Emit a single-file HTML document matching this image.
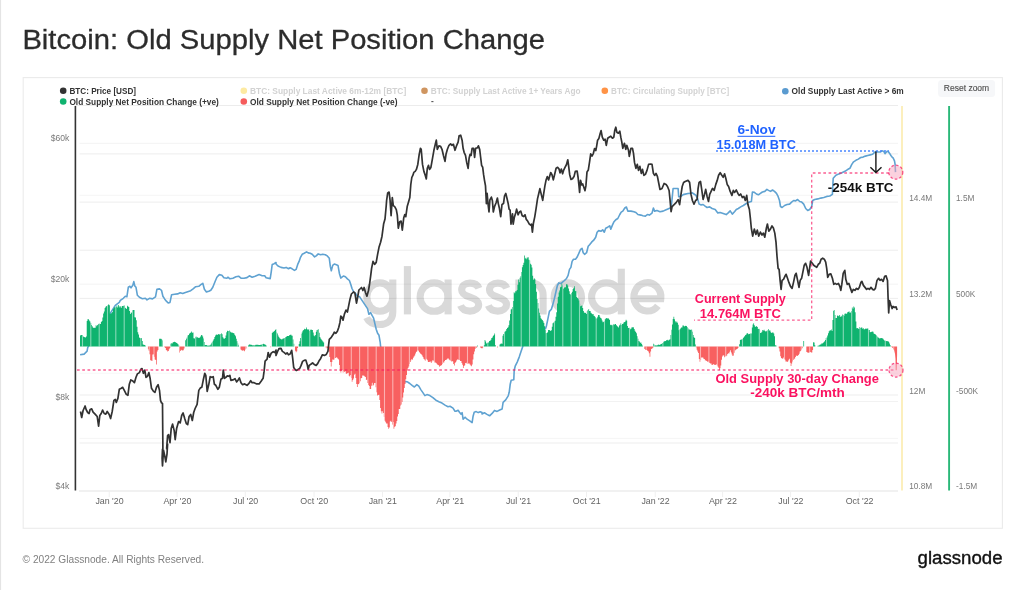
<!DOCTYPE html>
<html><head><meta charset="utf-8">
<style>
html,body{margin:0;padding:0;background:#fff;}
body{width:1024px;height:590px;overflow:hidden;position:relative;font-family:"Liberation Sans",sans-serif;}
svg{position:absolute;left:0;top:0;will-change:transform;}
text{font-family:"Liberation Sans",sans-serif;}
</style></head><body>
<svg width="1024" height="590" viewBox="0 0 1024 590">
<rect x="0" y="0" width="1024" height="590" fill="#fff"/>
<rect x="0" y="0" width="1.1" height="590" fill="#e4e4e4"/>
<text x="22.4" y="49.1" font-size="28.2" fill="#2c2c2c" stroke="#2c2c2c" stroke-width="0.3" textLength="522.5" lengthAdjust="spacingAndGlyphs">Bitcoin: Old Supply Net Position Change</text>
<rect x="23.2" y="77.6" width="979.2" height="450.7" fill="#fff" stroke="#ebebeb" stroke-width="1.1"/>
<g fill="none" stroke="#d9d9d9" stroke-width="7.1"><ellipse cx="379.8" cy="297.1" rx="13.0" ry="14.2"/><path d="M392.8,279.5 V312 C392.8,320 387,324.5 379.5,324.5 C373,324.5 368.5,321.8 366.6,317.6"/><path d="M407.4,266.1 V314.4"/><ellipse cx="434.1" cy="297.1" rx="14.0" ry="14.2"/><path d="M448.1,279.5 V314.4"/><path d="M478.9,288.3 C477.6,285 474.0,283.1 470.0,283.1 C465.0,283.1 461.7,286 461.7,289.9 C461.7,294 465.5,295.6 470.0,297.1 C474.8,298.7 478.7,300.4 478.7,304.5 C478.7,308.4 475.0,311.1 470.0,311.1 C465.4,311.1 461.9,309 460.6,305.6"/><path d="M506.7,288.3 C505.4,285 501.8,283.1 497.8,283.1 C492.8,283.1 489.5,286 489.5,289.9 C489.5,294 493.3,295.6 497.8,297.1 C502.6,298.7 506.5,300.4 506.5,304.5 C506.5,308.4 502.8,311.1 497.8,311.1 C493.2,311.1 489.7,309 488.4,305.6"/><path d="M518.9,279.5 V314.4 M518.9,295 A12.1,12.3 0 0 1 543.1,295 V314.4"/><ellipse cx="567.8" cy="297.1" rx="13.7" ry="14.2"/><ellipse cx="606.4" cy="297.1" rx="14.8" ry="14.2"/><path d="M621.3,268.7 V314.4"/><path d="M633.8,298.7 H660.8 A13.5,14.2 0 1 0 657.9,305.8"/></g><line x1="79.5" x2="898" y1="143.3" y2="143.3" stroke="#000" stroke-opacity="0.05" stroke-width="1"/><line x1="79.5" x2="898" y1="153.9" y2="153.9" stroke="#000" stroke-opacity="0.075" stroke-width="1"/><line x1="79.5" x2="898" y1="195.3" y2="195.3" stroke="#000" stroke-opacity="0.045" stroke-width="1"/><line x1="79.5" x2="898" y1="202.1" y2="202.1" stroke="#000" stroke-opacity="0.075" stroke-width="1"/><line x1="79.5" x2="898" y1="250.2" y2="250.2" stroke="#000" stroke-opacity="0.075" stroke-width="1"/><line x1="79.5" x2="898" y1="284.2" y2="284.2" stroke="#000" stroke-opacity="0.05" stroke-width="1"/><line x1="79.5" x2="898" y1="298.4" y2="298.4" stroke="#000" stroke-opacity="0.075" stroke-width="1"/><line x1="79.5" x2="898" y1="373.2" y2="373.2" stroke="#000" stroke-opacity="0.035" stroke-width="1"/><line x1="79.5" x2="898" y1="395.0" y2="395.0" stroke="#000" stroke-opacity="0.075" stroke-width="1"/><line x1="79.5" x2="898" y1="401.5" y2="401.5" stroke="#000" stroke-opacity="0.05" stroke-width="1"/><line x1="79.5" x2="898" y1="438.4" y2="438.4" stroke="#000" stroke-opacity="0.045" stroke-width="1"/><line x1="79.5" x2="898" y1="443.0" y2="443.0" stroke="#000" stroke-opacity="0.075" stroke-width="1"/><line x1="75" x2="898" y1="105.5" y2="105.5" stroke="#ececec" stroke-width="1"/>

<defs>
<clipPath id="barclip"><path d="M80.00,346.6 V335.5 H80.75 V334.9 H81.49 V335.1 H82.24 V335.0 H82.99 V336.5 H83.73 V337.0 H84.48 V337.2 H85.23 V337.5 H85.97 V336.4 H86.72 V321.0 H87.46 V319.3 H88.21 V319.3 H88.96 V320.4 H89.70 V321.6 H90.45 V323.0 H91.20 V324.9 H91.94 V326.3 H92.69 V327.6 H93.44 V328.1 H94.18 V327.8 H94.93 V327.8 H95.68 V325.2 H96.42 V326.2 H97.17 V324.9 H97.92 V324.2 H98.66 V323.8 H99.41 V323.8 H100.16 V324.1 H100.90 V321.9 H101.65 V321.0 H102.39 V317.4 H103.14 V313.6 H103.89 V311.4 H104.63 V308.1 H105.38 V306.7 H106.13 V305.9 H106.87 V306.6 H107.62 V305.1 H108.37 V304.2 H109.11 V305.2 H109.86 V313.9 H110.61 V312.8 H111.35 V313.3 H112.10 V312.0 H112.85 V308.9 H113.59 V308.0 H114.34 V306.9 H115.09 V307.6 H115.83 V306.8 H116.58 V305.5 H117.32 V307.5 H118.07 V305.0 H118.82 V306.3 H119.56 V307.6 H120.31 V306.3 H121.06 V307.7 H121.80 V306.1 H122.55 V306.1 H123.30 V305.7 H124.04 V305.5 H124.79 V307.8 H125.54 V308.3 H126.28 V309.1 H127.03 V305.8 H127.78 V306.4 H128.52 V307.1 H129.27 V311.1 H130.02 V314.1 H130.76 V312.6 H131.51 V312.7 H132.25 V310.2 H133.00 V310.1 H133.75 V309.9 H134.49 V317.2 H135.24 V317.4 H135.99 V320.3 H136.73 V326.8 H137.48 V332.2 H138.23 V334.4 H138.97 V337.6 H139.72 V338.0 H140.47 V338.4 H141.21 V338.1 H141.96 V341.1 H142.71 V344.6 H143.45 V344.8 H144.20 V345.0 H144.95 V345.4 H145.69 V346.6 H146.44 V346.6 H147.18 V346.6 H147.93 V346.6 H148.68 V346.6 H149.42 V346.6 H150.17 V346.6 H150.92 V346.6 H151.66 V346.6 H152.41 V346.6 H153.16 V346.6 H153.90 V346.6 H154.65 V346.6 H155.40 V346.6 H156.14 V346.6 H156.89 V346.6 H157.64 V346.6 H158.38 V346.6 H159.13 V338.7 H159.88 V338.7 H160.62 V338.7 H161.37 V339.2 H162.11 V340.6 H162.86 V346.6 H163.61 V346.6 H164.35 V346.6 H165.10 V346.6 H165.85 V346.6 H166.59 V346.6 H167.34 V346.6 H168.09 V346.6 H168.83 V346.6 H169.58 V346.6 H170.33 V343.7 H171.07 V343.2 H171.82 V343.4 H172.57 V342.6 H173.31 V342.1 H174.06 V341.7 H174.81 V341.9 H175.55 V342.6 H176.30 V342.9 H177.04 V343.4 H177.79 V344.2 H178.54 V345.5 H179.28 V346.6 H180.03 V346.6 H180.78 V346.6 H181.52 V346.6 H182.27 V346.6 H183.02 V346.6 H183.76 V346.6 H184.51 V346.6 H185.26 V340.2 H186.00 V338.8 H186.75 V337.5 H187.50 V335.6 H188.24 V334.9 H188.99 V333.7 H189.74 V332.9 H190.48 V332.5 H191.23 V331.6 H191.97 V332.8 H192.72 V332.4 H193.47 V338.2 H194.21 V338.4 H194.96 V337.3 H195.71 V336.6 H196.45 V337.4 H197.20 V337.2 H197.95 V337.7 H198.69 V338.0 H199.44 V337.6 H200.19 V336.5 H200.93 V335.1 H201.68 V335.2 H202.43 V336.5 H203.17 V338.6 H203.92 V341.9 H204.67 V345.0 H205.41 V344.9 H206.16 V344.9 H206.90 V345.5 H207.65 V345.7 H208.40 V345.4 H209.14 V345.6 H209.89 V345.3 H210.64 V344.2 H211.38 V342.7 H212.13 V341.8 H212.88 V340.5 H213.62 V339.0 H214.37 V337.1 H215.12 V335.5 H215.86 V334.4 H216.61 V334.7 H217.36 V334.8 H218.10 V333.9 H218.85 V334.4 H219.60 V334.3 H220.34 V334.1 H221.09 V333.2 H221.83 V334.2 H222.58 V337.2 H223.33 V338.6 H224.07 V338.8 H224.82 V338.1 H225.57 V335.4 H226.31 V332.3 H227.06 V330.7 H227.81 V330.9 H228.55 V330.9 H229.30 V330.4 H230.05 V331.7 H230.79 V332.5 H231.54 V332.6 H232.29 V332.7 H233.03 V333.0 H233.78 V333.5 H234.53 V335.1 H235.27 V336.3 H236.02 V338.7 H236.76 V341.2 H237.51 V343.4 H238.26 V345.6 H239.00 V346.6 H239.75 V346.6 H240.50 V346.6 H241.24 V346.6 H241.99 V346.6 H242.74 V346.6 H243.48 V346.6 H244.23 V346.6 H244.98 V346.6 H245.72 V346.6 H246.47 V346.6 H247.22 V346.6 H247.96 V345.4 H248.71 V344.8 H249.46 V344.2 H250.20 V344.8 H250.95 V344.8 H251.69 V344.9 H252.44 V345.4 H253.19 V345.1 H253.93 V345.3 H254.68 V345.2 H255.43 V344.7 H256.17 V344.7 H256.92 V344.7 H257.67 V344.7 H258.41 V345.1 H259.16 V344.9 H259.91 V345.0 H260.65 V344.5 H261.40 V344.7 H262.15 V344.0 H262.89 V343.8 H263.64 V344.1 H264.39 V344.6 H265.13 V344.8 H265.88 V345.6 H266.62 V346.6 H267.37 V346.6 H268.12 V346.6 H268.86 V346.6 H269.61 V346.6 H270.36 V346.6 H271.10 V346.6 H271.85 V333.0 H272.60 V331.7 H273.34 V331.7 H274.09 V331.1 H274.84 V330.0 H275.58 V329.2 H276.33 V332.5 H277.08 V333.4 H277.82 V335.6 H278.57 V336.9 H279.32 V338.3 H280.06 V338.7 H280.81 V339.2 H281.56 V339.4 H282.30 V338.7 H283.05 V338.4 H283.79 V338.3 H284.54 V338.1 H285.29 V337.1 H286.03 V336.7 H286.78 V336.1 H287.53 V335.9 H288.27 V335.9 H289.02 V335.3 H289.77 V335.1 H290.51 V334.6 H291.26 V335.5 H292.01 V335.7 H292.75 V339.6 H293.50 V343.8 H294.25 V346.6 H294.99 V346.6 H295.74 V346.6 H296.49 V346.6 H297.23 V346.6 H297.98 V346.6 H298.72 V344.1 H299.47 V341.2 H300.22 V338.0 H300.96 V334.1 H301.71 V332.5 H302.46 V330.8 H303.20 V330.1 H303.95 V328.7 H304.70 V329.4 H305.44 V328.9 H306.19 V327.6 H306.94 V329.2 H307.68 V329.7 H308.43 V329.2 H309.18 V331.0 H309.92 V329.9 H310.67 V329.2 H311.42 V330.0 H312.16 V330.1 H312.91 V332.4 H313.65 V335.6 H314.40 V336.2 H315.15 V335.1 H315.89 V331.7 H316.64 V329.9 H317.39 V329.8 H318.13 V329.2 H318.88 V332.7 H319.63 V336.9 H320.37 V338.5 H321.12 V339.6 H321.87 V340.6 H322.61 V341.5 H323.36 V342.5 H324.11 V346.6 H324.85 V346.6 H325.60 V346.6 H326.35 V346.6 H327.09 V346.6 H327.84 V346.6 H328.58 V346.6 H329.33 V346.6 H330.08 V346.6 H330.82 V346.6 H331.57 V346.6 H332.32 V346.6 H333.06 V346.6 H333.81 V346.6 H334.56 V346.6 H335.30 V346.6 H336.05 V346.6 H336.80 V346.6 H337.54 V346.6 H338.29 V346.6 H339.04 V346.6 H339.78 V346.6 H340.53 V346.6 H341.28 V346.6 H342.02 V346.6 H342.77 V346.6 H343.51 V346.6 H344.26 V346.6 H345.01 V346.6 H345.75 V346.6 H346.50 V346.6 H347.25 V346.6 H347.99 V346.6 H348.74 V346.6 H349.49 V346.6 H350.23 V346.6 H350.98 V346.6 H351.73 V346.6 H352.47 V346.6 H353.22 V346.6 H353.97 V346.6 H354.71 V346.6 H355.46 V346.6 H356.21 V346.6 H356.95 V346.6 H357.70 V346.6 H358.44 V346.6 H359.19 V346.6 H359.94 V346.6 H360.68 V346.6 H361.43 V346.6 H362.18 V346.6 H362.92 V346.6 H363.67 V346.6 H364.42 V346.6 H365.16 V346.6 H365.91 V346.6 H366.66 V346.6 H367.40 V346.6 H368.15 V346.6 H368.90 V346.6 H369.64 V346.6 H370.39 V346.6 H371.14 V346.6 H371.88 V346.6 H372.63 V346.6 H373.37 V346.6 H374.12 V346.6 H374.87 V346.6 H375.61 V346.6 H376.36 V346.6 H377.11 V346.6 H377.85 V346.6 H378.60 V346.6 H379.35 V346.6 H380.09 V346.6 H380.84 V346.6 H381.59 V346.6 H382.33 V346.6 H383.08 V346.6 H383.83 V346.6 H384.57 V346.6 H385.32 V346.6 H386.07 V346.6 H386.81 V346.6 H387.56 V346.6 H388.30 V346.6 H389.05 V346.6 H389.80 V346.6 H390.54 V346.6 H391.29 V346.6 H392.04 V346.6 H392.78 V346.6 H393.53 V346.6 H394.28 V346.6 H395.02 V346.6 H395.77 V346.6 H396.52 V346.6 H397.26 V346.6 H398.01 V346.6 H398.76 V346.6 H399.50 V346.6 H400.25 V346.6 H401.00 V346.6 H401.74 V346.6 H402.49 V346.6 H403.23 V346.6 H403.98 V346.6 H404.73 V346.6 H405.47 V346.6 H406.22 V346.6 H406.97 V346.6 H407.71 V346.6 H408.46 V346.6 H409.21 V346.6 H409.95 V346.6 H410.70 V346.6 H411.45 V346.6 H412.19 V346.6 H412.94 V346.6 H413.69 V346.6 H414.43 V346.6 H415.18 V346.6 H415.93 V346.6 H416.67 V346.6 H417.42 V346.6 H418.16 V346.6 H418.91 V346.6 H419.66 V346.6 H420.40 V346.6 H421.15 V346.6 H421.90 V346.6 H422.64 V346.6 H423.39 V346.6 H424.14 V346.6 H424.88 V346.6 H425.63 V346.6 H426.38 V346.6 H427.12 V346.6 H427.87 V346.6 H428.62 V346.6 H429.36 V346.6 H430.11 V346.6 H430.86 V346.6 H431.60 V346.6 H432.35 V346.6 H433.09 V346.6 H433.84 V346.6 H434.59 V346.6 H435.33 V346.6 H436.08 V346.6 H436.83 V346.6 H437.57 V346.6 H438.32 V346.6 H439.07 V346.6 H439.81 V346.6 H440.56 V346.6 H441.31 V346.6 H442.05 V346.6 H442.80 V346.6 H443.55 V346.6 H444.29 V346.6 H445.04 V346.6 H445.79 V346.6 H446.53 V346.6 H447.28 V346.6 H448.02 V346.6 H448.77 V346.6 H449.52 V346.6 H450.26 V346.6 H451.01 V346.6 H451.76 V346.6 H452.50 V346.6 H453.25 V346.6 H454.00 V346.6 H454.74 V346.6 H455.49 V346.6 H456.24 V346.6 H456.98 V346.6 H457.73 V346.6 H458.48 V346.6 H459.22 V346.6 H459.97 V346.6 H460.72 V346.6 H461.46 V346.6 H462.21 V346.6 H462.95 V346.6 H463.70 V346.6 H464.45 V346.6 H465.19 V346.6 H465.94 V346.6 H466.69 V346.6 H467.43 V346.6 H468.18 V346.6 H468.93 V346.6 H469.67 V346.6 H470.42 V346.6 H471.17 V346.6 H471.91 V346.6 H472.66 V346.6 H473.41 V346.6 H474.15 V346.6 H474.90 V346.6 H475.65 V346.6 H476.39 V346.6 H477.14 V345.5 H477.88 V346.6 H478.63 V346.6 H479.38 V346.6 H480.12 V346.6 H480.87 V346.6 H481.62 V346.6 H482.36 V346.6 H483.11 V346.6 H483.86 V345.2 H484.60 V340.0 H485.35 V341.6 H486.10 V343.4 H486.84 V343.1 H487.59 V342.6 H488.34 V342.4 H489.08 V340.9 H489.83 V340.7 H490.58 V339.7 H491.32 V337.9 H492.07 V337.5 H492.81 V335.9 H493.56 V335.0 H494.31 V333.6 H495.05 V344.9 H495.80 V346.6 H496.55 V346.6 H497.29 V346.6 H498.04 V346.6 H498.79 V346.6 H499.53 V344.6 H500.28 V343.8 H501.03 V343.6 H501.77 V343.7 H502.52 V335.8 H503.27 V333.9 H504.01 V332.2 H504.76 V331.5 H505.51 V330.7 H506.25 V329.1 H507.00 V328.1 H507.74 V327.2 H508.49 V325.3 H509.24 V320.5 H509.98 V313.9 H510.73 V309.6 H511.48 V308.8 H512.22 V307.0 H512.97 V301.1 H513.72 V292.3 H514.46 V293.2 H515.21 V291.2 H515.96 V291.3 H516.70 V289.9 H517.45 V284.8 H518.20 V279.5 H518.94 V282.2 H519.69 V277.8 H520.44 V276.2 H521.18 V271.9 H521.93 V267.3 H522.67 V264.9 H523.42 V262.7 H524.17 V255.5 H524.91 V258.5 H525.66 V257.8 H526.41 V259.2 H527.15 V257.5 H527.90 V257.2 H528.65 V259.7 H529.39 V260.4 H530.14 V263.7 H530.89 V264.7 H531.63 V267.6 H532.38 V275.7 H533.13 V279.8 H533.87 V278.3 H534.62 V279.3 H535.37 V283.9 H536.11 V291.7 H536.86 V298.9 H537.60 V303.1 H538.35 V308.4 H539.10 V312.7 H539.84 V315.6 H540.59 V318.2 H541.34 V319.3 H542.08 V319.9 H542.83 V321.3 H543.58 V322.9 H544.32 V326.3 H545.07 V329.9 H545.82 V333.3 H546.56 V333.1 H547.31 V332.2 H548.06 V329.9 H548.80 V330.0 H549.55 V330.3 H550.30 V331.0 H551.04 V330.3 H551.79 V326.7 H552.53 V323.3 H553.28 V322.6 H554.03 V321.8 H554.77 V320.7 H555.52 V316.8 H556.27 V312.2 H557.01 V303.6 H557.76 V296.7 H558.51 V292.4 H559.25 V290.5 H560.00 V287.2 H560.75 V286.7 H561.49 V283.4 H562.24 V285.5 H562.99 V288.7 H563.73 V287.8 H564.48 V287.1 H565.23 V287.3 H565.97 V284.2 H566.72 V284.3 H567.46 V285.4 H568.21 V288.6 H568.96 V291.3 H569.70 V294.0 H570.45 V294.7 H571.20 V293.0 H571.94 V291.7 H572.69 V289.0 H573.44 V288.0 H574.18 V286.2 H574.93 V290.7 H575.68 V291.3 H576.42 V296.9 H577.17 V298.0 H577.92 V298.7 H578.66 V300.6 H579.41 V303.8 H580.16 V306.2 H580.90 V305.8 H581.65 V305.5 H582.39 V308.0 H583.14 V311.0 H583.89 V312.5 H584.63 V312.9 H585.38 V312.8 H586.13 V314.1 H586.87 V311.1 H587.62 V310.0 H588.37 V309.0 H589.11 V311.1 H589.86 V311.0 H590.61 V312.8 H591.35 V313.6 H592.10 V314.3 H592.85 V314.1 H593.59 V315.7 H594.34 V316.3 H595.09 V317.3 H595.83 V318.7 H596.58 V318.2 H597.32 V316.8 H598.07 V314.9 H598.82 V315.1 H599.56 V316.7 H600.31 V317.9 H601.06 V318.5 H601.80 V320.4 H602.55 V322.3 H603.30 V321.8 H604.04 V321.6 H604.79 V319.2 H605.54 V318.6 H606.28 V317.9 H607.03 V318.5 H607.78 V318.0 H608.52 V319.1 H609.27 V320.0 H610.02 V324.7 H610.76 V325.2 H611.51 V324.8 H612.25 V325.4 H613.00 V324.2 H613.75 V325.0 H614.49 V324.0 H615.24 V324.1 H615.99 V324.9 H616.73 V325.9 H617.48 V326.7 H618.23 V327.5 H618.97 V325.4 H619.72 V324.7 H620.47 V323.3 H621.21 V325.1 H621.96 V324.0 H622.71 V323.7 H623.45 V322.5 H624.20 V322.1 H624.95 V321.5 H625.69 V319.7 H626.44 V320.8 H627.18 V325.9 H627.93 V328.0 H628.68 V327.8 H629.42 V328.3 H630.17 V329.2 H630.92 V328.5 H631.66 V326.9 H632.41 V327.5 H633.16 V327.3 H633.90 V329.1 H634.65 V330.8 H635.40 V332.0 H636.14 V333.2 H636.89 V336.2 H637.64 V338.8 H638.38 V341.0 H639.13 V341.5 H639.88 V342.7 H640.62 V342.6 H641.37 V344.1 H642.11 V345.5 H642.86 V346.6 H643.61 V346.6 H644.35 V346.6 H645.10 V346.6 H645.85 V346.6 H646.59 V346.6 H647.34 V346.6 H648.09 V346.6 H648.83 V346.6 H649.58 V346.6 H650.33 V346.6 H651.07 V346.6 H651.82 V346.6 H652.57 V346.6 H653.31 V343.7 H654.06 V344.7 H654.81 V345.5 H655.55 V345.3 H656.30 V345.4 H657.04 V345.3 H657.79 V344.8 H658.54 V344.6 H659.28 V344.9 H660.03 V344.5 H660.78 V344.1 H661.52 V343.8 H662.27 V342.9 H663.02 V342.2 H663.76 V341.2 H664.51 V341.2 H665.26 V340.9 H666.00 V340.2 H666.75 V340.2 H667.50 V339.8 H668.24 V340.5 H668.99 V339.8 H669.74 V339.2 H670.48 V334.9 H671.23 V329.7 H671.97 V324.5 H672.72 V318.9 H673.47 V316.7 H674.21 V319.2 H674.96 V321.3 H675.71 V322.6 H676.45 V321.5 H677.20 V322.7 H677.95 V324.8 H678.69 V330.3 H679.44 V329.6 H680.19 V328.4 H680.93 V327.5 H681.68 V327.4 H682.43 V325.5 H683.17 V325.4 H683.92 V326.6 H684.67 V326.0 H685.41 V325.8 H686.16 V325.9 H686.90 V326.9 H687.65 V328.3 H688.40 V329.5 H689.14 V329.5 H689.89 V330.0 H690.64 V329.4 H691.38 V329.7 H692.13 V331.8 H692.88 V335.1 H693.62 V337.3 H694.37 V338.1 H695.12 V344.5 H695.86 V346.6 H696.61 V346.6 H697.36 V346.6 H698.10 V346.6 H698.85 V346.6 H699.60 V346.6 H700.34 V346.6 H701.09 V346.6 H701.83 V346.6 H702.58 V346.6 H703.33 V346.6 H704.07 V346.6 H704.82 V346.6 H705.57 V346.6 H706.31 V346.6 H707.06 V346.6 H707.81 V346.6 H708.55 V346.6 H709.30 V346.6 H710.05 V346.6 H710.79 V346.6 H711.54 V346.6 H712.29 V346.6 H713.03 V346.6 H713.78 V346.6 H714.52 V346.6 H715.27 V346.6 H716.02 V346.6 H716.76 V346.6 H717.51 V346.6 H718.26 V346.6 H719.00 V346.6 H719.75 V346.6 H720.50 V346.6 H721.24 V346.6 H721.99 V346.6 H722.74 V346.6 H723.48 V346.6 H724.23 V346.6 H724.98 V346.6 H725.72 V346.6 H726.47 V346.6 H727.22 V346.6 H727.96 V346.6 H728.71 V346.6 H729.45 V346.6 H730.20 V346.6 H730.95 V346.6 H731.69 V346.6 H732.44 V346.6 H733.19 V346.6 H733.93 V346.6 H734.68 V346.6 H735.43 V346.6 H736.17 V346.6 H736.92 V346.6 H737.67 V346.6 H738.41 V346.6 H739.16 V344.2 H739.91 V340.1 H740.65 V339.4 H741.40 V339.6 H742.15 V339.0 H742.89 V338.1 H743.64 V336.9 H744.38 V335.9 H745.13 V334.9 H745.88 V334.5 H746.62 V333.3 H747.37 V333.2 H748.12 V334.2 H748.86 V334.0 H749.61 V333.7 H750.36 V333.5 H751.10 V333.4 H751.85 V327.4 H752.60 V324.4 H753.34 V323.2 H754.09 V325.2 H754.84 V326.7 H755.58 V326.7 H756.33 V326.0 H757.08 V327.1 H757.82 V329.1 H758.57 V328.8 H759.31 V329.6 H760.06 V333.0 H760.81 V332.7 H761.55 V331.7 H762.30 V330.0 H763.05 V330.4 H763.79 V329.8 H764.54 V330.9 H765.29 V331.6 H766.03 V331.3 H766.78 V330.6 H767.53 V330.6 H768.27 V329.1 H769.02 V330.4 H769.77 V330.5 H770.51 V332.3 H771.26 V332.9 H772.01 V332.4 H772.75 V332.4 H773.50 V333.6 H774.24 V336.2 H774.99 V344.9 H775.74 V345.5 H776.48 V346.6 H777.23 V346.6 H777.98 V346.6 H778.72 V346.6 H779.47 V346.6 H780.22 V346.6 H780.96 V346.6 H781.71 V346.6 H782.46 V346.6 H783.20 V346.6 H783.95 V346.6 H784.70 V346.6 H785.44 V346.6 H786.19 V346.6 H786.94 V346.6 H787.68 V346.6 H788.43 V346.6 H789.17 V346.6 H789.92 V346.6 H790.67 V346.6 H791.41 V346.6 H792.16 V346.6 H792.91 V346.6 H793.65 V346.6 H794.40 V346.6 H795.15 V346.6 H795.89 V346.6 H796.64 V346.6 H797.39 V346.6 H798.13 V346.6 H798.88 V346.6 H799.63 V346.6 H800.37 V346.6 H801.12 V346.6 H801.87 V346.6 H802.61 V346.6 H803.36 V340.9 H804.10 V346.6 H804.85 V346.6 H805.60 V346.6 H806.34 V346.6 H807.09 V346.6 H807.84 V346.6 H808.58 V346.6 H809.33 V346.6 H810.08 V346.6 H810.82 V346.6 H811.57 V346.6 H812.32 V346.6 H813.06 V342.3 H813.81 V342.5 H814.56 V345.2 H815.30 V346.6 H816.05 V346.6 H816.80 V346.6 H817.54 V345.7 H818.29 V345.5 H819.03 V345.2 H819.78 V344.5 H820.53 V344.5 H821.27 V343.5 H822.02 V343.4 H822.77 V342.9 H823.51 V342.1 H824.26 V341.2 H825.01 V340.1 H825.75 V338.1 H826.50 V337.4 H827.25 V335.4 H827.99 V333.3 H828.74 V331.2 H829.49 V330.4 H830.23 V330.2 H830.98 V329.4 H831.73 V331.1 H832.47 V320.1 H833.22 V310.7 H833.96 V310.0 H834.71 V315.0 H835.46 V318.0 H836.20 V317.9 H836.95 V315.5 H837.70 V315.8 H838.44 V316.3 H839.19 V315.1 H839.94 V317.1 H840.68 V315.7 H841.43 V316.5 H842.18 V314.5 H842.92 V315.0 H843.67 V315.7 H844.42 V313.7 H845.16 V313.6 H845.91 V313.9 H846.66 V313.2 H847.40 V312.0 H848.15 V311.8 H848.89 V311.4 H849.64 V313.1 H850.39 V312.3 H851.13 V311.1 H851.88 V307.6 H852.63 V308.8 H853.37 V306.5 H854.12 V307.4 H854.87 V312.2 H855.61 V321.5 H856.36 V328.3 H857.11 V328.1 H857.85 V328.6 H858.60 V328.9 H859.35 V327.1 H860.09 V328.0 H860.84 V327.6 H861.59 V327.6 H862.33 V328.7 H863.08 V328.2 H863.82 V329.6 H864.57 V329.0 H865.32 V328.4 H866.06 V328.7 H866.81 V328.5 H867.56 V328.6 H868.30 V330.0 H869.05 V330.1 H869.80 V332.3 H870.54 V332.0 H871.29 V331.8 H872.04 V331.6 H872.78 V331.7 H873.53 V333.4 H874.28 V333.9 H875.02 V334.2 H875.77 V335.0 H876.52 V335.9 H877.26 V337.2 H878.01 V337.6 H878.75 V338.1 H879.50 V338.8 H880.25 V338.0 H880.99 V338.0 H881.74 V338.3 H882.49 V338.5 H883.23 V339.4 H883.98 V340.5 H884.73 V340.6 H885.47 V341.2 H886.22 V341.1 H886.97 V341.2 H887.71 V341.0 H888.46 V341.9 H889.21 V343.6 H889.95 V345.3 H890.70 V346.6 Z"/><path d="M80.00,346.6 V346.6 H80.75 V346.6 H81.49 V346.6 H82.24 V346.6 H82.99 V346.6 H83.73 V346.6 H84.48 V346.6 H85.23 V346.6 H85.97 V346.6 H86.72 V346.6 H87.46 V346.6 H88.21 V346.6 H88.96 V346.6 H89.70 V346.6 H90.45 V346.6 H91.20 V346.6 H91.94 V346.6 H92.69 V346.6 H93.44 V346.6 H94.18 V346.6 H94.93 V346.6 H95.68 V346.6 H96.42 V346.6 H97.17 V346.6 H97.92 V346.6 H98.66 V346.6 H99.41 V346.6 H100.16 V346.6 H100.90 V346.6 H101.65 V346.6 H102.39 V346.6 H103.14 V346.6 H103.89 V346.6 H104.63 V346.6 H105.38 V346.6 H106.13 V346.6 H106.87 V346.6 H107.62 V346.6 H108.37 V346.6 H109.11 V346.6 H109.86 V346.6 H110.61 V346.6 H111.35 V346.6 H112.10 V346.6 H112.85 V346.6 H113.59 V346.6 H114.34 V346.6 H115.09 V346.6 H115.83 V346.6 H116.58 V346.6 H117.32 V346.6 H118.07 V346.6 H118.82 V346.6 H119.56 V346.6 H120.31 V346.6 H121.06 V346.6 H121.80 V346.6 H122.55 V346.6 H123.30 V346.6 H124.04 V346.6 H124.79 V346.6 H125.54 V346.6 H126.28 V346.6 H127.03 V346.6 H127.78 V346.6 H128.52 V346.6 H129.27 V346.6 H130.02 V346.6 H130.76 V346.6 H131.51 V346.6 H132.25 V346.6 H133.00 V346.6 H133.75 V346.6 H134.49 V346.6 H135.24 V346.6 H135.99 V346.6 H136.73 V346.6 H137.48 V346.6 H138.23 V346.6 H138.97 V346.6 H139.72 V346.6 H140.47 V346.6 H141.21 V346.6 H141.96 V346.6 H142.71 V346.6 H143.45 V346.6 H144.20 V346.6 H144.95 V346.6 H145.69 V346.6 H146.44 V346.6 H147.18 V346.6 H147.93 V349.2 H148.68 V350.8 H149.42 V354.2 H150.17 V360.2 H150.92 V360.5 H151.66 V361.0 H152.41 V354.4 H153.16 V354.3 H153.90 V356.7 H154.65 V359.4 H155.40 V359.9 H156.14 V364.4 H156.89 V351.6 H157.64 V350.1 H158.38 V346.6 H159.13 V346.6 H159.88 V346.6 H160.62 V346.6 H161.37 V346.6 H162.11 V346.6 H162.86 V346.6 H163.61 V346.6 H164.35 V347.3 H165.10 V348.1 H165.85 V349.9 H166.59 V350.6 H167.34 V351.5 H168.09 V351.1 H168.83 V349.3 H169.58 V348.1 H170.33 V346.6 H171.07 V346.6 H171.82 V346.6 H172.57 V346.6 H173.31 V346.6 H174.06 V346.6 H174.81 V346.6 H175.55 V346.6 H176.30 V346.6 H177.04 V346.6 H177.79 V346.6 H178.54 V346.6 H179.28 V352.4 H180.03 V350.9 H180.78 V349.8 H181.52 V350.2 H182.27 V350.5 H183.02 V350.2 H183.76 V348.4 H184.51 V346.6 H185.26 V346.6 H186.00 V346.6 H186.75 V346.6 H187.50 V346.6 H188.24 V346.6 H188.99 V346.6 H189.74 V346.6 H190.48 V346.6 H191.23 V346.6 H191.97 V346.6 H192.72 V346.6 H193.47 V346.6 H194.21 V346.6 H194.96 V346.6 H195.71 V346.6 H196.45 V346.6 H197.20 V346.6 H197.95 V346.6 H198.69 V346.6 H199.44 V346.6 H200.19 V346.6 H200.93 V346.6 H201.68 V346.6 H202.43 V346.6 H203.17 V346.6 H203.92 V346.6 H204.67 V346.6 H205.41 V346.6 H206.16 V346.6 H206.90 V346.6 H207.65 V346.6 H208.40 V346.6 H209.14 V346.6 H209.89 V346.6 H210.64 V346.6 H211.38 V346.6 H212.13 V346.6 H212.88 V346.6 H213.62 V346.6 H214.37 V346.6 H215.12 V346.6 H215.86 V346.6 H216.61 V346.6 H217.36 V346.6 H218.10 V346.6 H218.85 V346.6 H219.60 V346.6 H220.34 V346.6 H221.09 V346.6 H221.83 V346.6 H222.58 V346.6 H223.33 V346.6 H224.07 V346.6 H224.82 V346.6 H225.57 V346.6 H226.31 V346.6 H227.06 V346.6 H227.81 V346.6 H228.55 V346.6 H229.30 V346.6 H230.05 V346.6 H230.79 V346.6 H231.54 V346.6 H232.29 V346.6 H233.03 V346.6 H233.78 V346.6 H234.53 V346.6 H235.27 V346.6 H236.02 V346.6 H236.76 V346.6 H237.51 V346.6 H238.26 V346.6 H239.00 V346.6 H239.75 V346.6 H240.50 V349.4 H241.24 V350.2 H241.99 V350.7 H242.74 V350.3 H243.48 V350.5 H244.23 V351.2 H244.98 V349.6 H245.72 V348.4 H246.47 V346.6 H247.22 V346.6 H247.96 V346.6 H248.71 V346.6 H249.46 V346.6 H250.20 V346.6 H250.95 V346.6 H251.69 V346.6 H252.44 V346.6 H253.19 V346.6 H253.93 V346.6 H254.68 V346.6 H255.43 V346.6 H256.17 V346.6 H256.92 V346.6 H257.67 V346.6 H258.41 V346.6 H259.16 V346.6 H259.91 V346.6 H260.65 V346.6 H261.40 V346.6 H262.15 V346.6 H262.89 V346.6 H263.64 V346.6 H264.39 V346.6 H265.13 V346.6 H265.88 V346.6 H266.62 V346.6 H267.37 V346.6 H268.12 V346.6 H268.86 V346.6 H269.61 V346.6 H270.36 V347.3 H271.10 V346.6 H271.85 V346.6 H272.60 V346.6 H273.34 V346.6 H274.09 V346.6 H274.84 V346.6 H275.58 V346.6 H276.33 V346.6 H277.08 V346.6 H277.82 V346.6 H278.57 V346.6 H279.32 V346.6 H280.06 V346.6 H280.81 V346.6 H281.56 V346.6 H282.30 V346.6 H283.05 V346.6 H283.79 V346.6 H284.54 V346.6 H285.29 V346.6 H286.03 V346.6 H286.78 V346.6 H287.53 V346.6 H288.27 V346.6 H289.02 V346.6 H289.77 V346.6 H290.51 V346.6 H291.26 V346.6 H292.01 V346.6 H292.75 V346.6 H293.50 V346.6 H294.25 V346.6 H294.99 V350.7 H295.74 V352.2 H296.49 V351.2 H297.23 V348.0 H297.98 V346.6 H298.72 V346.6 H299.47 V346.6 H300.22 V346.6 H300.96 V346.6 H301.71 V346.6 H302.46 V346.6 H303.20 V346.6 H303.95 V346.6 H304.70 V346.6 H305.44 V346.6 H306.19 V346.6 H306.94 V346.6 H307.68 V346.6 H308.43 V346.6 H309.18 V346.6 H309.92 V346.6 H310.67 V346.6 H311.42 V346.6 H312.16 V346.6 H312.91 V346.6 H313.65 V346.6 H314.40 V346.6 H315.15 V346.6 H315.89 V346.6 H316.64 V346.6 H317.39 V346.6 H318.13 V346.6 H318.88 V346.6 H319.63 V346.6 H320.37 V346.6 H321.12 V346.6 H321.87 V346.6 H322.61 V346.6 H323.36 V346.6 H324.11 V346.6 H324.85 V346.6 H325.60 V347.5 H326.35 V348.3 H327.09 V348.0 H327.84 V349.0 H328.58 V351.6 H329.33 V357.0 H330.08 V362.0 H330.82 V366.4 H331.57 V362.1 H332.32 V359.4 H333.06 V359.7 H333.81 V359.4 H334.56 V357.9 H335.30 V357.9 H336.05 V357.3 H336.80 V357.7 H337.54 V358.8 H338.29 V359.6 H339.04 V365.0 H339.78 V371.0 H340.53 V372.6 H341.28 V370.8 H342.02 V370.0 H342.77 V372.5 H343.51 V370.9 H344.26 V372.0 H345.01 V371.3 H345.75 V373.6 H346.50 V374.0 H347.25 V373.1 H347.99 V372.8 H348.74 V375.8 H349.49 V376.5 H350.23 V375.1 H350.98 V378.1 H351.73 V381.8 H352.47 V380.1 H353.22 V378.4 H353.97 V374.8 H354.71 V373.7 H355.46 V378.1 H356.21 V383.9 H356.95 V387.0 H357.70 V383.9 H358.44 V384.3 H359.19 V383.0 H359.94 V381.2 H360.68 V378.3 H361.43 V378.0 H362.18 V375.4 H362.92 V375.4 H363.67 V375.7 H364.42 V376.5 H365.16 V376.9 H365.91 V380.0 H366.66 V379.5 H367.40 V382.9 H368.15 V385.0 H368.90 V386.1 H369.64 V389.1 H370.39 V389.1 H371.14 V385.8 H371.88 V382.7 H372.63 V385.8 H373.37 V384.8 H374.12 V382.9 H374.87 V382.9 H375.61 V387.2 H376.36 V392.2 H377.11 V395.4 H377.85 V395.1 H378.60 V394.7 H379.35 V400.1 H380.09 V408.1 H380.84 V411.2 H381.59 V413.5 H382.33 V411.2 H383.08 V413.1 H383.83 V416.7 H384.57 V420.7 H385.32 V422.3 H386.07 V423.4 H386.81 V423.6 H387.56 V427.1 H388.30 V428.8 H389.05 V427.4 H389.80 V421.6 H390.54 V420.7 H391.29 V421.9 H392.04 V424.4 H392.78 V422.0 H393.53 V428.8 H394.28 V426.8 H395.02 V426.2 H395.77 V423.4 H396.52 V421.1 H397.26 V416.5 H398.01 V414.1 H398.76 V409.1 H399.50 V408.9 H400.25 V405.5 H401.00 V404.6 H401.74 V402.0 H402.49 V397.6 H403.23 V392.5 H403.98 V387.9 H404.73 V384.1 H405.47 V379.2 H406.22 V374.9 H406.97 V370.6 H407.71 V368.1 H408.46 V366.4 H409.21 V363.9 H409.95 V361.9 H410.70 V360.2 H411.45 V358.9 H412.19 V359.7 H412.94 V357.8 H413.69 V356.4 H414.43 V355.6 H415.18 V353.4 H415.93 V352.0 H416.67 V351.2 H417.42 V350.0 H418.16 V350.7 H418.91 V352.1 H419.66 V352.9 H420.40 V354.0 H421.15 V354.6 H421.90 V355.6 H422.64 V356.9 H423.39 V358.8 H424.14 V359.5 H424.88 V360.8 H425.63 V359.5 H426.38 V358.7 H427.12 V360.2 H427.87 V362.0 H428.62 V361.9 H429.36 V361.8 H430.11 V361.4 H430.86 V362.9 H431.60 V361.6 H432.35 V360.3 H433.09 V360.4 H433.84 V361.4 H434.59 V362.8 H435.33 V362.4 H436.08 V363.2 H436.83 V364.3 H437.57 V365.0 H438.32 V365.3 H439.07 V366.8 H439.81 V365.8 H440.56 V365.7 H441.31 V365.1 H442.05 V364.0 H442.80 V362.5 H443.55 V362.6 H444.29 V361.1 H445.04 V360.0 H445.79 V359.9 H446.53 V359.3 H447.28 V358.5 H448.02 V358.4 H448.77 V359.4 H449.52 V360.2 H450.26 V360.6 H451.01 V361.4 H451.76 V360.9 H452.50 V361.5 H453.25 V363.9 H454.00 V365.4 H454.74 V362.9 H455.49 V362.0 H456.24 V360.5 H456.98 V359.5 H457.73 V359.4 H458.48 V359.7 H459.22 V360.1 H459.97 V361.0 H460.72 V361.1 H461.46 V363.0 H462.21 V364.8 H462.95 V368.1 H463.70 V365.9 H464.45 V365.2 H465.19 V363.1 H465.94 V362.8 H466.69 V363.8 H467.43 V363.6 H468.18 V363.4 H468.93 V363.5 H469.67 V364.5 H470.42 V365.5 H471.17 V366.3 H471.91 V364.5 H472.66 V359.4 H473.41 V354.3 H474.15 V351.4 H474.90 V349.0 H475.65 V348.0 H476.39 V347.4 H477.14 V346.6 H477.88 V346.6 H478.63 V346.6 H479.38 V346.6 H480.12 V347.6 H480.87 V348.1 H481.62 V348.6 H482.36 V347.8 H483.11 V346.6 H483.86 V346.6 H484.60 V346.6 H485.35 V346.6 H486.10 V346.6 H486.84 V346.6 H487.59 V346.6 H488.34 V346.6 H489.08 V346.6 H489.83 V346.6 H490.58 V346.6 H491.32 V346.6 H492.07 V346.6 H492.81 V346.6 H493.56 V346.6 H494.31 V346.6 H495.05 V346.6 H495.80 V346.6 H496.55 V346.6 H497.29 V347.4 H498.04 V346.6 H498.79 V346.6 H499.53 V346.6 H500.28 V346.6 H501.03 V346.6 H501.77 V346.6 H502.52 V346.6 H503.27 V346.6 H504.01 V346.6 H504.76 V346.6 H505.51 V346.6 H506.25 V346.6 H507.00 V346.6 H507.74 V346.6 H508.49 V346.6 H509.24 V346.6 H509.98 V346.6 H510.73 V346.6 H511.48 V346.6 H512.22 V346.6 H512.97 V346.6 H513.72 V346.6 H514.46 V346.6 H515.21 V346.6 H515.96 V346.6 H516.70 V346.6 H517.45 V346.6 H518.20 V346.6 H518.94 V346.6 H519.69 V346.6 H520.44 V346.6 H521.18 V346.6 H521.93 V346.6 H522.67 V346.6 H523.42 V346.6 H524.17 V346.6 H524.91 V346.6 H525.66 V346.6 H526.41 V346.6 H527.15 V346.6 H527.90 V346.6 H528.65 V346.6 H529.39 V346.6 H530.14 V346.6 H530.89 V346.6 H531.63 V346.6 H532.38 V346.6 H533.13 V346.6 H533.87 V346.6 H534.62 V346.6 H535.37 V346.6 H536.11 V346.6 H536.86 V346.6 H537.60 V346.6 H538.35 V346.6 H539.10 V346.6 H539.84 V346.6 H540.59 V346.6 H541.34 V346.6 H542.08 V346.6 H542.83 V346.6 H543.58 V346.6 H544.32 V346.6 H545.07 V346.6 H545.82 V346.6 H546.56 V346.6 H547.31 V346.6 H548.06 V346.6 H548.80 V346.6 H549.55 V346.6 H550.30 V346.6 H551.04 V346.6 H551.79 V346.6 H552.53 V346.6 H553.28 V346.6 H554.03 V346.6 H554.77 V346.6 H555.52 V346.6 H556.27 V346.6 H557.01 V346.6 H557.76 V346.6 H558.51 V346.6 H559.25 V346.6 H560.00 V346.6 H560.75 V346.6 H561.49 V346.6 H562.24 V346.6 H562.99 V346.6 H563.73 V346.6 H564.48 V346.6 H565.23 V346.6 H565.97 V346.6 H566.72 V346.6 H567.46 V346.6 H568.21 V346.6 H568.96 V346.6 H569.70 V346.6 H570.45 V346.6 H571.20 V346.6 H571.94 V346.6 H572.69 V346.6 H573.44 V346.6 H574.18 V346.6 H574.93 V346.6 H575.68 V346.6 H576.42 V346.6 H577.17 V346.6 H577.92 V346.6 H578.66 V346.6 H579.41 V346.6 H580.16 V346.6 H580.90 V346.6 H581.65 V346.6 H582.39 V346.6 H583.14 V346.6 H583.89 V346.6 H584.63 V346.6 H585.38 V346.6 H586.13 V346.6 H586.87 V346.6 H587.62 V346.6 H588.37 V346.6 H589.11 V346.6 H589.86 V346.6 H590.61 V346.6 H591.35 V346.6 H592.10 V346.6 H592.85 V346.6 H593.59 V346.6 H594.34 V346.6 H595.09 V346.6 H595.83 V346.6 H596.58 V346.6 H597.32 V346.6 H598.07 V346.6 H598.82 V346.6 H599.56 V346.6 H600.31 V346.6 H601.06 V346.6 H601.80 V346.6 H602.55 V346.6 H603.30 V346.6 H604.04 V346.6 H604.79 V346.6 H605.54 V346.6 H606.28 V346.6 H607.03 V346.6 H607.78 V346.6 H608.52 V346.6 H609.27 V346.6 H610.02 V346.6 H610.76 V346.6 H611.51 V346.6 H612.25 V346.6 H613.00 V346.6 H613.75 V346.6 H614.49 V346.6 H615.24 V346.6 H615.99 V346.6 H616.73 V346.6 H617.48 V346.6 H618.23 V346.6 H618.97 V346.6 H619.72 V346.6 H620.47 V346.6 H621.21 V346.6 H621.96 V346.6 H622.71 V346.6 H623.45 V346.6 H624.20 V346.6 H624.95 V346.6 H625.69 V346.6 H626.44 V346.6 H627.18 V346.6 H627.93 V346.6 H628.68 V346.6 H629.42 V346.6 H630.17 V346.6 H630.92 V346.6 H631.66 V346.6 H632.41 V346.6 H633.16 V346.6 H633.90 V346.6 H634.65 V346.6 H635.40 V346.6 H636.14 V346.6 H636.89 V346.6 H637.64 V346.6 H638.38 V346.6 H639.13 V346.6 H639.88 V346.6 H640.62 V346.6 H641.37 V346.6 H642.11 V346.6 H642.86 V346.6 H643.61 V346.6 H644.35 V349.1 H645.10 V349.7 H645.85 V350.1 H646.59 V350.1 H647.34 V351.1 H648.09 V351.4 H648.83 V353.2 H649.58 V356.8 H650.33 V351.4 H651.07 V348.9 H651.82 V348.5 H652.57 V347.7 H653.31 V346.6 H654.06 V346.6 H654.81 V346.6 H655.55 V346.6 H656.30 V346.6 H657.04 V346.6 H657.79 V346.6 H658.54 V346.6 H659.28 V346.6 H660.03 V346.6 H660.78 V346.6 H661.52 V346.6 H662.27 V346.6 H663.02 V346.6 H663.76 V346.6 H664.51 V346.6 H665.26 V346.6 H666.00 V346.6 H666.75 V346.6 H667.50 V346.6 H668.24 V346.6 H668.99 V346.6 H669.74 V346.6 H670.48 V346.6 H671.23 V346.6 H671.97 V346.6 H672.72 V346.6 H673.47 V346.6 H674.21 V346.6 H674.96 V346.6 H675.71 V346.6 H676.45 V346.6 H677.20 V346.6 H677.95 V346.6 H678.69 V346.6 H679.44 V346.6 H680.19 V346.6 H680.93 V346.6 H681.68 V346.6 H682.43 V346.6 H683.17 V346.6 H683.92 V346.6 H684.67 V346.6 H685.41 V346.6 H686.16 V346.6 H686.90 V346.6 H687.65 V346.6 H688.40 V346.6 H689.14 V346.6 H689.89 V346.6 H690.64 V346.6 H691.38 V346.6 H692.13 V346.6 H692.88 V346.6 H693.62 V346.6 H694.37 V346.6 H695.12 V346.6 H695.86 V347.4 H696.61 V349.8 H697.36 V351.4 H698.10 V353.0 H698.85 V358.9 H699.60 V361.8 H700.34 V359.9 H701.09 V357.4 H701.83 V357.6 H702.58 V357.6 H703.33 V358.8 H704.07 V359.0 H704.82 V360.2 H705.57 V360.6 H706.31 V361.1 H707.06 V361.8 H707.81 V361.3 H708.55 V362.2 H709.30 V363.0 H710.05 V363.6 H710.79 V363.6 H711.54 V364.9 H712.29 V364.8 H713.03 V363.9 H713.78 V364.9 H714.52 V364.4 H715.27 V364.9 H716.02 V364.2 H716.76 V365.2 H717.51 V366.6 H718.26 V367.8 H719.00 V370.1 H719.75 V368.3 H720.50 V365.6 H721.24 V359.8 H721.99 V356.4 H722.74 V355.2 H723.48 V355.6 H724.23 V357.2 H724.98 V356.2 H725.72 V356.3 H726.47 V355.6 H727.22 V354.1 H727.96 V353.3 H728.71 V353.6 H729.45 V351.8 H730.20 V350.2 H730.95 V352.6 H731.69 V354.6 H732.44 V355.9 H733.19 V355.4 H733.93 V352.7 H734.68 V350.6 H735.43 V349.7 H736.17 V349.2 H736.92 V348.9 H737.67 V348.0 H738.41 V346.6 H739.16 V346.6 H739.91 V346.6 H740.65 V346.6 H741.40 V346.6 H742.15 V346.6 H742.89 V346.6 H743.64 V346.6 H744.38 V346.6 H745.13 V346.6 H745.88 V346.6 H746.62 V346.6 H747.37 V346.6 H748.12 V346.6 H748.86 V346.6 H749.61 V346.6 H750.36 V346.6 H751.10 V346.6 H751.85 V346.6 H752.60 V346.6 H753.34 V346.6 H754.09 V346.6 H754.84 V346.6 H755.58 V346.6 H756.33 V346.6 H757.08 V346.6 H757.82 V346.6 H758.57 V346.6 H759.31 V346.6 H760.06 V346.6 H760.81 V346.6 H761.55 V346.6 H762.30 V346.6 H763.05 V346.6 H763.79 V346.6 H764.54 V346.6 H765.29 V346.6 H766.03 V346.6 H766.78 V346.6 H767.53 V346.6 H768.27 V346.6 H769.02 V346.6 H769.77 V346.6 H770.51 V346.6 H771.26 V346.6 H772.01 V346.6 H772.75 V346.6 H773.50 V346.6 H774.24 V346.6 H774.99 V346.6 H775.74 V346.6 H776.48 V346.6 H777.23 V346.6 H777.98 V346.6 H778.72 V348.3 H779.47 V351.6 H780.22 V356.2 H780.96 V358.1 H781.71 V358.4 H782.46 V358.8 H783.20 V357.6 H783.95 V359.0 H784.70 V359.8 H785.44 V361.6 H786.19 V361.6 H786.94 V362.0 H787.68 V361.3 H788.43 V359.7 H789.17 V358.7 H789.92 V362.8 H790.67 V366.0 H791.41 V363.5 H792.16 V361.4 H792.91 V360.0 H793.65 V359.3 H794.40 V358.6 H795.15 V356.9 H795.89 V355.4 H796.64 V355.9 H797.39 V355.8 H798.13 V355.1 H798.88 V353.7 H799.63 V351.4 H800.37 V350.9 H801.12 V349.4 H801.87 V348.2 H802.61 V346.6 H803.36 V346.6 H804.10 V346.6 H804.85 V346.6 H805.60 V346.6 H806.34 V352.1 H807.09 V352.4 H807.84 V352.5 H808.58 V352.9 H809.33 V352.0 H810.08 V351.9 H810.82 V352.4 H811.57 V352.6 H812.32 V349.9 H813.06 V346.6 H813.81 V346.6 H814.56 V346.6 H815.30 V346.6 H816.05 V346.6 H816.80 V346.6 H817.54 V346.6 H818.29 V346.6 H819.03 V346.6 H819.78 V346.6 H820.53 V346.6 H821.27 V346.6 H822.02 V346.6 H822.77 V346.6 H823.51 V346.6 H824.26 V346.6 H825.01 V346.6 H825.75 V346.6 H826.50 V346.6 H827.25 V346.6 H827.99 V346.6 H828.74 V346.6 H829.49 V346.6 H830.23 V346.6 H830.98 V346.6 H831.73 V346.6 H832.47 V346.6 H833.22 V346.6 H833.96 V346.6 H834.71 V346.6 H835.46 V346.6 H836.20 V346.6 H836.95 V346.6 H837.70 V346.6 H838.44 V346.6 H839.19 V346.6 H839.94 V346.6 H840.68 V346.6 H841.43 V346.6 H842.18 V346.6 H842.92 V346.6 H843.67 V346.6 H844.42 V346.6 H845.16 V346.6 H845.91 V346.6 H846.66 V346.6 H847.40 V346.6 H848.15 V346.6 H848.89 V346.6 H849.64 V346.6 H850.39 V346.6 H851.13 V346.6 H851.88 V346.6 H852.63 V346.6 H853.37 V346.6 H854.12 V346.6 H854.87 V346.6 H855.61 V346.6 H856.36 V346.6 H857.11 V346.6 H857.85 V346.6 H858.60 V346.6 H859.35 V346.6 H860.09 V346.6 H860.84 V346.6 H861.59 V346.6 H862.33 V346.6 H863.08 V346.6 H863.82 V346.6 H864.57 V346.6 H865.32 V346.6 H866.06 V346.6 H866.81 V346.6 H867.56 V346.6 H868.30 V346.6 H869.05 V346.6 H869.80 V346.6 H870.54 V346.6 H871.29 V346.6 H872.04 V346.6 H872.78 V346.6 H873.53 V346.6 H874.28 V346.6 H875.02 V346.6 H875.77 V346.6 H876.52 V346.6 H877.26 V346.6 H878.01 V346.6 H878.75 V346.6 H879.50 V346.6 H880.25 V346.6 H880.99 V346.6 H881.74 V346.6 H882.49 V346.6 H883.23 V346.6 H883.98 V346.6 H884.73 V346.6 H885.47 V346.6 H886.22 V346.6 H886.97 V346.6 H887.71 V346.6 H888.46 V346.6 H889.21 V346.6 H889.95 V346.6 H890.70 V346.6 L890.9,346.6 L892.9,348 L894.1,350.3 L895,353.7 L895.5,359 L895.7,370.3 L896.7,370.3 L897.1,355 L897.1,346.6 Z"/></clipPath>
</defs>

<path d="M80.1,354.7 L84.1,354.1 L87.1,351.2 L87.7,347.6 L91.1,341.6 L99.2,333.5 L107.2,319.5 L110.2,313.4 L115.3,305.4 L119.3,302.4 L120.3,300.4 L123.3,298.3 L125.3,296.3 L126.9,296.7 L128.3,287.3 L129.9,286.3 L131.0,287.9 L132.8,285.3 L133.8,281.6 L134.8,285.9 L136.0,287.3 L137.4,295.3 L139.4,297.3 L142.4,298.7 L145.4,298.3 L147.0,299.9 L149.5,298.3 L152.5,298.9 L155.5,296.9 L156.9,289.3 L159.5,288.9 L161.5,290.3 L162.9,296.3 L164.6,298.9 L166.6,301.4 L168.2,303.0 L170.0,302.4 L171.6,294.7 L174.6,294.3 L177.6,293.9 L180.2,292.7 L182.7,293.5 L184.7,292.7 L187.7,291.7 L190.7,290.7 L193.1,288.9 L195.7,286.7 L198.8,286.3 L200.8,284.7 L202.8,283.3 L204.4,289.3 L206.4,291.9 L208.8,291.3 L210.8,290.3 L212.8,287.3 L215.2,281.2 L216.9,277.2 L219.3,274.6 L221.9,275.2 L223.9,277.8 L226.9,278.2 L227.9,277.2 L229.9,278.8 L232.9,278.2 L236.0,276.8 L238.6,276.2 L241.0,278.2 L244.0,278.2 L247.0,277.6 L249.4,275.8 L252.1,277.2 L255.1,276.2 L259.1,274.6 L262.1,275.8 L264.7,275.8 L266.1,277.8 L270.2,278.6 L271.2,272.2 L272.2,264.5 L274.2,263.7 L276.0,262.5 L276.0,264.0 L278.0,266.0 L281.0,267.4 L284.0,268.0 L286.1,267.4 L288.5,268.8 L290.1,267.8 L292.1,268.8 L294.5,270.4 L296.1,269.4 L297.7,264.4 L299.1,261.4 L300.5,257.3 L302.2,254.3 L304.2,253.3 L306.6,251.9 L308.2,252.9 L310.2,253.3 L312.2,254.3 L314.6,256.9 L316.2,255.9 L318.2,253.9 L320.7,254.7 L322.7,254.3 L325.3,254.7 L327.3,255.9 L329.3,258.3 L330.3,266.4 L331.3,270.8 L332.7,265.4 L334.3,264.0 L336.4,264.8 L338.0,265.4 L339.4,273.4 L340.8,278.1 L343.4,276.0 L345.4,276.8 L347.4,278.9 L349.4,280.5 L350.8,284.5 L352.0,288.5 L353.5,291.5 L355.5,293.5 L357.5,296.2 L359.5,296.6 L361.5,299.6 L363.5,302.6 L365.5,305.6 L367.5,308.6 L368.9,314.3 L370.6,312.7 L372.2,315.7 L373.6,318.1 L376.2,329.2 L377.6,333.3 L379.0,335.3 L380.2,342.3 L380.6,346.7 L384.6,360.4 L388.7,370.5 L393.1,378.5 L396.7,380.9 L401.1,382.1 L405.8,381.5 L407.8,382.1 L409.8,383.5 L412.4,385.6 L414.4,387.0 L416.8,384.6 L418.8,386.2 L420.8,389.6 L422.9,392.6 L424.9,395.6 L426.9,394.6 L429.9,395.6 L432.9,397.6 L435.9,400.2 L438.9,401.7 L442.0,403.1 L445.0,405.1 L448.0,406.7 L450.0,406.3 L453.0,408.1 L455.0,411.2 L456.0,411.2 L458.1,410.2 L459.5,412.2 L461.1,414.2 L462.1,412.6 L463.1,419.2 L465.1,417.2 L467.1,419.2 L470.1,421.2 L472.1,422.6 L473.1,416.2 L474.2,412.2 L476.2,411.6 L478.2,412.6 L480.2,411.8 L482.0,412.6 L482.0,414.0 L484.4,412.8 L487.0,414.4 L489.6,415.8 L492.1,413.4 L494.5,410.4 L497.1,411.4 L499.7,410.0 L502.1,409.0 L503.1,402.4 L505.7,399.9 L508.2,395.9 L509.2,392.3 L510.2,384.3 L511.2,380.2 L513.8,379.8 L514.2,370.2 L515.2,366.2 L517.2,362.1 L519.2,357.1 L521.2,351.1 L522.6,347.0 L525.3,336.5 L528.7,324.8 L533.3,324.0 L537.3,324.8 L542.4,327.5 L545.4,328.9 L546.4,326.0 L548.0,318.4 L549.4,311.4 L551.4,309.3 L552.8,304.6 L554.4,298.6 L556.0,291.5 L557.4,285.5 L558.8,282.9 L560.9,283.5 L562.5,282.1 L564.5,280.5 L566.5,278.5 L568.1,275.4 L569.5,269.4 L570.9,267.4 L572.1,261.4 L573.5,259.3 L575.5,259.3 L577.0,257.3 L578.6,253.9 L580.6,249.3 L582.0,248.3 L583.2,252.7 L584.6,254.3 L586.6,252.7 L588.2,246.3 L589.6,244.7 L591.6,242.2 L593.7,240.2 L595.7,237.2 L597.1,232.2 L598.7,230.6 L601.1,231.2 L602.7,229.8 L604.3,232.2 L605.7,228.2 L607.7,227.2 L609.7,225.8 L610.8,229.2 L612.4,225.1 L613.8,222.1 L615.8,219.7 L617.8,218.5 L619.8,214.5 L621.2,212.1 L622.8,211.1 L624.8,208.0 L626.4,207.0 L627.8,211.1 L630.9,211.1 L633.9,211.7 L635.9,212.5 L637.9,214.5 L640.9,215.1 L642.9,215.7 L645.4,216.1 L647.4,214.5 L649.4,215.1 L652.0,213.1 L653.4,208.0 L654.6,211.1 L657.0,210.5 L660.0,211.7 L663.1,211.1 L666.1,209.7 L669.1,208.4 L671.1,207.6 L672.1,198.6 L673.1,188.5 L678.1,188.5 L678.7,196.6 L681.2,196.2 L683.2,194.6 L685.2,194.1 L688.0,193.5 L690.0,193.4 L692.0,192.8 L694.0,194.0 L696.0,195.4 L697.7,198.9 L699.1,204.1 L701.1,204.9 L703.1,204.5 L705.1,206.1 L707.1,207.5 L709.7,206.9 L712.1,208.5 L715.2,209.5 L717.8,212.9 L720.2,212.5 L723.2,213.5 L726.2,214.6 L728.2,212.9 L730.2,210.9 L732.3,214.1 L734.7,211.5 L736.3,209.5 L738.3,208.5 L740.7,206.9 L743.3,205.5 L746.3,203.5 L749.4,202.1 L751.4,201.5 L752.4,192.0 L754.4,192.4 L756.4,194.0 L758.4,194.8 L760.4,193.4 L762.4,192.0 L764.8,191.4 L766.9,189.4 L768.5,190.4 L770.5,191.4 L772.5,190.0 L774.5,191.4 L776.5,193.4 L778.1,196.4 L779.5,200.5 L780.5,206.5 L782.1,207.5 L784.6,205.5 L787.0,204.5 L789.6,204.1 L791.6,202.1 L793.6,200.5 L795.6,200.9 L797.6,199.5 L799.7,201.5 L801.7,202.1 L803.7,204.1 L805.7,208.5 L807.7,210.5 L809.7,209.5 L811.7,206.5 L812.7,200.5 L814.7,199.5 L817.8,198.9 L820.8,198.1 L823.8,197.5 L826.8,196.4 L829.8,196.0 L832.4,194.4 L833.2,178.3 L835.9,175.3 L838.9,173.9 L841.9,172.7 L844.9,171.3 L847.9,169.3 L850.0,168.2 L851.8,164.4 L853.6,161.8 L855.9,160.3 L858.3,159.1 L860.7,157.5 L863.1,157.1 L865.4,156.1 L867.8,155.5 L870.2,154.9 L872.6,154.3 L874.3,152.6 L875.5,151.6 L877.9,152.0 L880.3,152.0 L882.0,150.8 L883.8,151.4 L885.0,153.7 L886.2,152.3 L887.4,151.1 L888.6,152.0 L889.8,153.7 L890.9,155.5 L892.1,157.1 L893.3,158.2 L894.5,160.9 L895.1,164.4 L895.5,172.1" fill="none" stroke="#5fa2d1" stroke-width="1.6" stroke-linejoin="round"/>
<path d="M80.00,346.6 V335.5 H80.75 V334.9 H81.49 V335.1 H82.24 V335.0 H82.99 V336.5 H83.73 V337.0 H84.48 V337.2 H85.23 V337.5 H85.97 V336.4 H86.72 V321.0 H87.46 V319.3 H88.21 V319.3 H88.96 V320.4 H89.70 V321.6 H90.45 V323.0 H91.20 V324.9 H91.94 V326.3 H92.69 V327.6 H93.44 V328.1 H94.18 V327.8 H94.93 V327.8 H95.68 V325.2 H96.42 V326.2 H97.17 V324.9 H97.92 V324.2 H98.66 V323.8 H99.41 V323.8 H100.16 V324.1 H100.90 V321.9 H101.65 V321.0 H102.39 V317.4 H103.14 V313.6 H103.89 V311.4 H104.63 V308.1 H105.38 V306.7 H106.13 V305.9 H106.87 V306.6 H107.62 V305.1 H108.37 V304.2 H109.11 V305.2 H109.86 V313.9 H110.61 V312.8 H111.35 V313.3 H112.10 V312.0 H112.85 V308.9 H113.59 V308.0 H114.34 V306.9 H115.09 V307.6 H115.83 V306.8 H116.58 V305.5 H117.32 V307.5 H118.07 V305.0 H118.82 V306.3 H119.56 V307.6 H120.31 V306.3 H121.06 V307.7 H121.80 V306.1 H122.55 V306.1 H123.30 V305.7 H124.04 V305.5 H124.79 V307.8 H125.54 V308.3 H126.28 V309.1 H127.03 V305.8 H127.78 V306.4 H128.52 V307.1 H129.27 V311.1 H130.02 V314.1 H130.76 V312.6 H131.51 V312.7 H132.25 V310.2 H133.00 V310.1 H133.75 V309.9 H134.49 V317.2 H135.24 V317.4 H135.99 V320.3 H136.73 V326.8 H137.48 V332.2 H138.23 V334.4 H138.97 V337.6 H139.72 V338.0 H140.47 V338.4 H141.21 V338.1 H141.96 V341.1 H142.71 V344.6 H143.45 V344.8 H144.20 V345.0 H144.95 V345.4 H145.69 V346.6 H146.44 V346.6 H147.18 V346.6 H147.93 V346.6 H148.68 V346.6 H149.42 V346.6 H150.17 V346.6 H150.92 V346.6 H151.66 V346.6 H152.41 V346.6 H153.16 V346.6 H153.90 V346.6 H154.65 V346.6 H155.40 V346.6 H156.14 V346.6 H156.89 V346.6 H157.64 V346.6 H158.38 V346.6 H159.13 V338.7 H159.88 V338.7 H160.62 V338.7 H161.37 V339.2 H162.11 V340.6 H162.86 V346.6 H163.61 V346.6 H164.35 V346.6 H165.10 V346.6 H165.85 V346.6 H166.59 V346.6 H167.34 V346.6 H168.09 V346.6 H168.83 V346.6 H169.58 V346.6 H170.33 V343.7 H171.07 V343.2 H171.82 V343.4 H172.57 V342.6 H173.31 V342.1 H174.06 V341.7 H174.81 V341.9 H175.55 V342.6 H176.30 V342.9 H177.04 V343.4 H177.79 V344.2 H178.54 V345.5 H179.28 V346.6 H180.03 V346.6 H180.78 V346.6 H181.52 V346.6 H182.27 V346.6 H183.02 V346.6 H183.76 V346.6 H184.51 V346.6 H185.26 V340.2 H186.00 V338.8 H186.75 V337.5 H187.50 V335.6 H188.24 V334.9 H188.99 V333.7 H189.74 V332.9 H190.48 V332.5 H191.23 V331.6 H191.97 V332.8 H192.72 V332.4 H193.47 V338.2 H194.21 V338.4 H194.96 V337.3 H195.71 V336.6 H196.45 V337.4 H197.20 V337.2 H197.95 V337.7 H198.69 V338.0 H199.44 V337.6 H200.19 V336.5 H200.93 V335.1 H201.68 V335.2 H202.43 V336.5 H203.17 V338.6 H203.92 V341.9 H204.67 V345.0 H205.41 V344.9 H206.16 V344.9 H206.90 V345.5 H207.65 V345.7 H208.40 V345.4 H209.14 V345.6 H209.89 V345.3 H210.64 V344.2 H211.38 V342.7 H212.13 V341.8 H212.88 V340.5 H213.62 V339.0 H214.37 V337.1 H215.12 V335.5 H215.86 V334.4 H216.61 V334.7 H217.36 V334.8 H218.10 V333.9 H218.85 V334.4 H219.60 V334.3 H220.34 V334.1 H221.09 V333.2 H221.83 V334.2 H222.58 V337.2 H223.33 V338.6 H224.07 V338.8 H224.82 V338.1 H225.57 V335.4 H226.31 V332.3 H227.06 V330.7 H227.81 V330.9 H228.55 V330.9 H229.30 V330.4 H230.05 V331.7 H230.79 V332.5 H231.54 V332.6 H232.29 V332.7 H233.03 V333.0 H233.78 V333.5 H234.53 V335.1 H235.27 V336.3 H236.02 V338.7 H236.76 V341.2 H237.51 V343.4 H238.26 V345.6 H239.00 V346.6 H239.75 V346.6 H240.50 V346.6 H241.24 V346.6 H241.99 V346.6 H242.74 V346.6 H243.48 V346.6 H244.23 V346.6 H244.98 V346.6 H245.72 V346.6 H246.47 V346.6 H247.22 V346.6 H247.96 V345.4 H248.71 V344.8 H249.46 V344.2 H250.20 V344.8 H250.95 V344.8 H251.69 V344.9 H252.44 V345.4 H253.19 V345.1 H253.93 V345.3 H254.68 V345.2 H255.43 V344.7 H256.17 V344.7 H256.92 V344.7 H257.67 V344.7 H258.41 V345.1 H259.16 V344.9 H259.91 V345.0 H260.65 V344.5 H261.40 V344.7 H262.15 V344.0 H262.89 V343.8 H263.64 V344.1 H264.39 V344.6 H265.13 V344.8 H265.88 V345.6 H266.62 V346.6 H267.37 V346.6 H268.12 V346.6 H268.86 V346.6 H269.61 V346.6 H270.36 V346.6 H271.10 V346.6 H271.85 V333.0 H272.60 V331.7 H273.34 V331.7 H274.09 V331.1 H274.84 V330.0 H275.58 V329.2 H276.33 V332.5 H277.08 V333.4 H277.82 V335.6 H278.57 V336.9 H279.32 V338.3 H280.06 V338.7 H280.81 V339.2 H281.56 V339.4 H282.30 V338.7 H283.05 V338.4 H283.79 V338.3 H284.54 V338.1 H285.29 V337.1 H286.03 V336.7 H286.78 V336.1 H287.53 V335.9 H288.27 V335.9 H289.02 V335.3 H289.77 V335.1 H290.51 V334.6 H291.26 V335.5 H292.01 V335.7 H292.75 V339.6 H293.50 V343.8 H294.25 V346.6 H294.99 V346.6 H295.74 V346.6 H296.49 V346.6 H297.23 V346.6 H297.98 V346.6 H298.72 V344.1 H299.47 V341.2 H300.22 V338.0 H300.96 V334.1 H301.71 V332.5 H302.46 V330.8 H303.20 V330.1 H303.95 V328.7 H304.70 V329.4 H305.44 V328.9 H306.19 V327.6 H306.94 V329.2 H307.68 V329.7 H308.43 V329.2 H309.18 V331.0 H309.92 V329.9 H310.67 V329.2 H311.42 V330.0 H312.16 V330.1 H312.91 V332.4 H313.65 V335.6 H314.40 V336.2 H315.15 V335.1 H315.89 V331.7 H316.64 V329.9 H317.39 V329.8 H318.13 V329.2 H318.88 V332.7 H319.63 V336.9 H320.37 V338.5 H321.12 V339.6 H321.87 V340.6 H322.61 V341.5 H323.36 V342.5 H324.11 V346.6 H324.85 V346.6 H325.60 V346.6 H326.35 V346.6 H327.09 V346.6 H327.84 V346.6 H328.58 V346.6 H329.33 V346.6 H330.08 V346.6 H330.82 V346.6 H331.57 V346.6 H332.32 V346.6 H333.06 V346.6 H333.81 V346.6 H334.56 V346.6 H335.30 V346.6 H336.05 V346.6 H336.80 V346.6 H337.54 V346.6 H338.29 V346.6 H339.04 V346.6 H339.78 V346.6 H340.53 V346.6 H341.28 V346.6 H342.02 V346.6 H342.77 V346.6 H343.51 V346.6 H344.26 V346.6 H345.01 V346.6 H345.75 V346.6 H346.50 V346.6 H347.25 V346.6 H347.99 V346.6 H348.74 V346.6 H349.49 V346.6 H350.23 V346.6 H350.98 V346.6 H351.73 V346.6 H352.47 V346.6 H353.22 V346.6 H353.97 V346.6 H354.71 V346.6 H355.46 V346.6 H356.21 V346.6 H356.95 V346.6 H357.70 V346.6 H358.44 V346.6 H359.19 V346.6 H359.94 V346.6 H360.68 V346.6 H361.43 V346.6 H362.18 V346.6 H362.92 V346.6 H363.67 V346.6 H364.42 V346.6 H365.16 V346.6 H365.91 V346.6 H366.66 V346.6 H367.40 V346.6 H368.15 V346.6 H368.90 V346.6 H369.64 V346.6 H370.39 V346.6 H371.14 V346.6 H371.88 V346.6 H372.63 V346.6 H373.37 V346.6 H374.12 V346.6 H374.87 V346.6 H375.61 V346.6 H376.36 V346.6 H377.11 V346.6 H377.85 V346.6 H378.60 V346.6 H379.35 V346.6 H380.09 V346.6 H380.84 V346.6 H381.59 V346.6 H382.33 V346.6 H383.08 V346.6 H383.83 V346.6 H384.57 V346.6 H385.32 V346.6 H386.07 V346.6 H386.81 V346.6 H387.56 V346.6 H388.30 V346.6 H389.05 V346.6 H389.80 V346.6 H390.54 V346.6 H391.29 V346.6 H392.04 V346.6 H392.78 V346.6 H393.53 V346.6 H394.28 V346.6 H395.02 V346.6 H395.77 V346.6 H396.52 V346.6 H397.26 V346.6 H398.01 V346.6 H398.76 V346.6 H399.50 V346.6 H400.25 V346.6 H401.00 V346.6 H401.74 V346.6 H402.49 V346.6 H403.23 V346.6 H403.98 V346.6 H404.73 V346.6 H405.47 V346.6 H406.22 V346.6 H406.97 V346.6 H407.71 V346.6 H408.46 V346.6 H409.21 V346.6 H409.95 V346.6 H410.70 V346.6 H411.45 V346.6 H412.19 V346.6 H412.94 V346.6 H413.69 V346.6 H414.43 V346.6 H415.18 V346.6 H415.93 V346.6 H416.67 V346.6 H417.42 V346.6 H418.16 V346.6 H418.91 V346.6 H419.66 V346.6 H420.40 V346.6 H421.15 V346.6 H421.90 V346.6 H422.64 V346.6 H423.39 V346.6 H424.14 V346.6 H424.88 V346.6 H425.63 V346.6 H426.38 V346.6 H427.12 V346.6 H427.87 V346.6 H428.62 V346.6 H429.36 V346.6 H430.11 V346.6 H430.86 V346.6 H431.60 V346.6 H432.35 V346.6 H433.09 V346.6 H433.84 V346.6 H434.59 V346.6 H435.33 V346.6 H436.08 V346.6 H436.83 V346.6 H437.57 V346.6 H438.32 V346.6 H439.07 V346.6 H439.81 V346.6 H440.56 V346.6 H441.31 V346.6 H442.05 V346.6 H442.80 V346.6 H443.55 V346.6 H444.29 V346.6 H445.04 V346.6 H445.79 V346.6 H446.53 V346.6 H447.28 V346.6 H448.02 V346.6 H448.77 V346.6 H449.52 V346.6 H450.26 V346.6 H451.01 V346.6 H451.76 V346.6 H452.50 V346.6 H453.25 V346.6 H454.00 V346.6 H454.74 V346.6 H455.49 V346.6 H456.24 V346.6 H456.98 V346.6 H457.73 V346.6 H458.48 V346.6 H459.22 V346.6 H459.97 V346.6 H460.72 V346.6 H461.46 V346.6 H462.21 V346.6 H462.95 V346.6 H463.70 V346.6 H464.45 V346.6 H465.19 V346.6 H465.94 V346.6 H466.69 V346.6 H467.43 V346.6 H468.18 V346.6 H468.93 V346.6 H469.67 V346.6 H470.42 V346.6 H471.17 V346.6 H471.91 V346.6 H472.66 V346.6 H473.41 V346.6 H474.15 V346.6 H474.90 V346.6 H475.65 V346.6 H476.39 V346.6 H477.14 V345.5 H477.88 V346.6 H478.63 V346.6 H479.38 V346.6 H480.12 V346.6 H480.87 V346.6 H481.62 V346.6 H482.36 V346.6 H483.11 V346.6 H483.86 V345.2 H484.60 V340.0 H485.35 V341.6 H486.10 V343.4 H486.84 V343.1 H487.59 V342.6 H488.34 V342.4 H489.08 V340.9 H489.83 V340.7 H490.58 V339.7 H491.32 V337.9 H492.07 V337.5 H492.81 V335.9 H493.56 V335.0 H494.31 V333.6 H495.05 V344.9 H495.80 V346.6 H496.55 V346.6 H497.29 V346.6 H498.04 V346.6 H498.79 V346.6 H499.53 V344.6 H500.28 V343.8 H501.03 V343.6 H501.77 V343.7 H502.52 V335.8 H503.27 V333.9 H504.01 V332.2 H504.76 V331.5 H505.51 V330.7 H506.25 V329.1 H507.00 V328.1 H507.74 V327.2 H508.49 V325.3 H509.24 V320.5 H509.98 V313.9 H510.73 V309.6 H511.48 V308.8 H512.22 V307.0 H512.97 V301.1 H513.72 V292.3 H514.46 V293.2 H515.21 V291.2 H515.96 V291.3 H516.70 V289.9 H517.45 V284.8 H518.20 V279.5 H518.94 V282.2 H519.69 V277.8 H520.44 V276.2 H521.18 V271.9 H521.93 V267.3 H522.67 V264.9 H523.42 V262.7 H524.17 V255.5 H524.91 V258.5 H525.66 V257.8 H526.41 V259.2 H527.15 V257.5 H527.90 V257.2 H528.65 V259.7 H529.39 V260.4 H530.14 V263.7 H530.89 V264.7 H531.63 V267.6 H532.38 V275.7 H533.13 V279.8 H533.87 V278.3 H534.62 V279.3 H535.37 V283.9 H536.11 V291.7 H536.86 V298.9 H537.60 V303.1 H538.35 V308.4 H539.10 V312.7 H539.84 V315.6 H540.59 V318.2 H541.34 V319.3 H542.08 V319.9 H542.83 V321.3 H543.58 V322.9 H544.32 V326.3 H545.07 V329.9 H545.82 V333.3 H546.56 V333.1 H547.31 V332.2 H548.06 V329.9 H548.80 V330.0 H549.55 V330.3 H550.30 V331.0 H551.04 V330.3 H551.79 V326.7 H552.53 V323.3 H553.28 V322.6 H554.03 V321.8 H554.77 V320.7 H555.52 V316.8 H556.27 V312.2 H557.01 V303.6 H557.76 V296.7 H558.51 V292.4 H559.25 V290.5 H560.00 V287.2 H560.75 V286.7 H561.49 V283.4 H562.24 V285.5 H562.99 V288.7 H563.73 V287.8 H564.48 V287.1 H565.23 V287.3 H565.97 V284.2 H566.72 V284.3 H567.46 V285.4 H568.21 V288.6 H568.96 V291.3 H569.70 V294.0 H570.45 V294.7 H571.20 V293.0 H571.94 V291.7 H572.69 V289.0 H573.44 V288.0 H574.18 V286.2 H574.93 V290.7 H575.68 V291.3 H576.42 V296.9 H577.17 V298.0 H577.92 V298.7 H578.66 V300.6 H579.41 V303.8 H580.16 V306.2 H580.90 V305.8 H581.65 V305.5 H582.39 V308.0 H583.14 V311.0 H583.89 V312.5 H584.63 V312.9 H585.38 V312.8 H586.13 V314.1 H586.87 V311.1 H587.62 V310.0 H588.37 V309.0 H589.11 V311.1 H589.86 V311.0 H590.61 V312.8 H591.35 V313.6 H592.10 V314.3 H592.85 V314.1 H593.59 V315.7 H594.34 V316.3 H595.09 V317.3 H595.83 V318.7 H596.58 V318.2 H597.32 V316.8 H598.07 V314.9 H598.82 V315.1 H599.56 V316.7 H600.31 V317.9 H601.06 V318.5 H601.80 V320.4 H602.55 V322.3 H603.30 V321.8 H604.04 V321.6 H604.79 V319.2 H605.54 V318.6 H606.28 V317.9 H607.03 V318.5 H607.78 V318.0 H608.52 V319.1 H609.27 V320.0 H610.02 V324.7 H610.76 V325.2 H611.51 V324.8 H612.25 V325.4 H613.00 V324.2 H613.75 V325.0 H614.49 V324.0 H615.24 V324.1 H615.99 V324.9 H616.73 V325.9 H617.48 V326.7 H618.23 V327.5 H618.97 V325.4 H619.72 V324.7 H620.47 V323.3 H621.21 V325.1 H621.96 V324.0 H622.71 V323.7 H623.45 V322.5 H624.20 V322.1 H624.95 V321.5 H625.69 V319.7 H626.44 V320.8 H627.18 V325.9 H627.93 V328.0 H628.68 V327.8 H629.42 V328.3 H630.17 V329.2 H630.92 V328.5 H631.66 V326.9 H632.41 V327.5 H633.16 V327.3 H633.90 V329.1 H634.65 V330.8 H635.40 V332.0 H636.14 V333.2 H636.89 V336.2 H637.64 V338.8 H638.38 V341.0 H639.13 V341.5 H639.88 V342.7 H640.62 V342.6 H641.37 V344.1 H642.11 V345.5 H642.86 V346.6 H643.61 V346.6 H644.35 V346.6 H645.10 V346.6 H645.85 V346.6 H646.59 V346.6 H647.34 V346.6 H648.09 V346.6 H648.83 V346.6 H649.58 V346.6 H650.33 V346.6 H651.07 V346.6 H651.82 V346.6 H652.57 V346.6 H653.31 V343.7 H654.06 V344.7 H654.81 V345.5 H655.55 V345.3 H656.30 V345.4 H657.04 V345.3 H657.79 V344.8 H658.54 V344.6 H659.28 V344.9 H660.03 V344.5 H660.78 V344.1 H661.52 V343.8 H662.27 V342.9 H663.02 V342.2 H663.76 V341.2 H664.51 V341.2 H665.26 V340.9 H666.00 V340.2 H666.75 V340.2 H667.50 V339.8 H668.24 V340.5 H668.99 V339.8 H669.74 V339.2 H670.48 V334.9 H671.23 V329.7 H671.97 V324.5 H672.72 V318.9 H673.47 V316.7 H674.21 V319.2 H674.96 V321.3 H675.71 V322.6 H676.45 V321.5 H677.20 V322.7 H677.95 V324.8 H678.69 V330.3 H679.44 V329.6 H680.19 V328.4 H680.93 V327.5 H681.68 V327.4 H682.43 V325.5 H683.17 V325.4 H683.92 V326.6 H684.67 V326.0 H685.41 V325.8 H686.16 V325.9 H686.90 V326.9 H687.65 V328.3 H688.40 V329.5 H689.14 V329.5 H689.89 V330.0 H690.64 V329.4 H691.38 V329.7 H692.13 V331.8 H692.88 V335.1 H693.62 V337.3 H694.37 V338.1 H695.12 V344.5 H695.86 V346.6 H696.61 V346.6 H697.36 V346.6 H698.10 V346.6 H698.85 V346.6 H699.60 V346.6 H700.34 V346.6 H701.09 V346.6 H701.83 V346.6 H702.58 V346.6 H703.33 V346.6 H704.07 V346.6 H704.82 V346.6 H705.57 V346.6 H706.31 V346.6 H707.06 V346.6 H707.81 V346.6 H708.55 V346.6 H709.30 V346.6 H710.05 V346.6 H710.79 V346.6 H711.54 V346.6 H712.29 V346.6 H713.03 V346.6 H713.78 V346.6 H714.52 V346.6 H715.27 V346.6 H716.02 V346.6 H716.76 V346.6 H717.51 V346.6 H718.26 V346.6 H719.00 V346.6 H719.75 V346.6 H720.50 V346.6 H721.24 V346.6 H721.99 V346.6 H722.74 V346.6 H723.48 V346.6 H724.23 V346.6 H724.98 V346.6 H725.72 V346.6 H726.47 V346.6 H727.22 V346.6 H727.96 V346.6 H728.71 V346.6 H729.45 V346.6 H730.20 V346.6 H730.95 V346.6 H731.69 V346.6 H732.44 V346.6 H733.19 V346.6 H733.93 V346.6 H734.68 V346.6 H735.43 V346.6 H736.17 V346.6 H736.92 V346.6 H737.67 V346.6 H738.41 V346.6 H739.16 V344.2 H739.91 V340.1 H740.65 V339.4 H741.40 V339.6 H742.15 V339.0 H742.89 V338.1 H743.64 V336.9 H744.38 V335.9 H745.13 V334.9 H745.88 V334.5 H746.62 V333.3 H747.37 V333.2 H748.12 V334.2 H748.86 V334.0 H749.61 V333.7 H750.36 V333.5 H751.10 V333.4 H751.85 V327.4 H752.60 V324.4 H753.34 V323.2 H754.09 V325.2 H754.84 V326.7 H755.58 V326.7 H756.33 V326.0 H757.08 V327.1 H757.82 V329.1 H758.57 V328.8 H759.31 V329.6 H760.06 V333.0 H760.81 V332.7 H761.55 V331.7 H762.30 V330.0 H763.05 V330.4 H763.79 V329.8 H764.54 V330.9 H765.29 V331.6 H766.03 V331.3 H766.78 V330.6 H767.53 V330.6 H768.27 V329.1 H769.02 V330.4 H769.77 V330.5 H770.51 V332.3 H771.26 V332.9 H772.01 V332.4 H772.75 V332.4 H773.50 V333.6 H774.24 V336.2 H774.99 V344.9 H775.74 V345.5 H776.48 V346.6 H777.23 V346.6 H777.98 V346.6 H778.72 V346.6 H779.47 V346.6 H780.22 V346.6 H780.96 V346.6 H781.71 V346.6 H782.46 V346.6 H783.20 V346.6 H783.95 V346.6 H784.70 V346.6 H785.44 V346.6 H786.19 V346.6 H786.94 V346.6 H787.68 V346.6 H788.43 V346.6 H789.17 V346.6 H789.92 V346.6 H790.67 V346.6 H791.41 V346.6 H792.16 V346.6 H792.91 V346.6 H793.65 V346.6 H794.40 V346.6 H795.15 V346.6 H795.89 V346.6 H796.64 V346.6 H797.39 V346.6 H798.13 V346.6 H798.88 V346.6 H799.63 V346.6 H800.37 V346.6 H801.12 V346.6 H801.87 V346.6 H802.61 V346.6 H803.36 V340.9 H804.10 V346.6 H804.85 V346.6 H805.60 V346.6 H806.34 V346.6 H807.09 V346.6 H807.84 V346.6 H808.58 V346.6 H809.33 V346.6 H810.08 V346.6 H810.82 V346.6 H811.57 V346.6 H812.32 V346.6 H813.06 V342.3 H813.81 V342.5 H814.56 V345.2 H815.30 V346.6 H816.05 V346.6 H816.80 V346.6 H817.54 V345.7 H818.29 V345.5 H819.03 V345.2 H819.78 V344.5 H820.53 V344.5 H821.27 V343.5 H822.02 V343.4 H822.77 V342.9 H823.51 V342.1 H824.26 V341.2 H825.01 V340.1 H825.75 V338.1 H826.50 V337.4 H827.25 V335.4 H827.99 V333.3 H828.74 V331.2 H829.49 V330.4 H830.23 V330.2 H830.98 V329.4 H831.73 V331.1 H832.47 V320.1 H833.22 V310.7 H833.96 V310.0 H834.71 V315.0 H835.46 V318.0 H836.20 V317.9 H836.95 V315.5 H837.70 V315.8 H838.44 V316.3 H839.19 V315.1 H839.94 V317.1 H840.68 V315.7 H841.43 V316.5 H842.18 V314.5 H842.92 V315.0 H843.67 V315.7 H844.42 V313.7 H845.16 V313.6 H845.91 V313.9 H846.66 V313.2 H847.40 V312.0 H848.15 V311.8 H848.89 V311.4 H849.64 V313.1 H850.39 V312.3 H851.13 V311.1 H851.88 V307.6 H852.63 V308.8 H853.37 V306.5 H854.12 V307.4 H854.87 V312.2 H855.61 V321.5 H856.36 V328.3 H857.11 V328.1 H857.85 V328.6 H858.60 V328.9 H859.35 V327.1 H860.09 V328.0 H860.84 V327.6 H861.59 V327.6 H862.33 V328.7 H863.08 V328.2 H863.82 V329.6 H864.57 V329.0 H865.32 V328.4 H866.06 V328.7 H866.81 V328.5 H867.56 V328.6 H868.30 V330.0 H869.05 V330.1 H869.80 V332.3 H870.54 V332.0 H871.29 V331.8 H872.04 V331.6 H872.78 V331.7 H873.53 V333.4 H874.28 V333.9 H875.02 V334.2 H875.77 V335.0 H876.52 V335.9 H877.26 V337.2 H878.01 V337.6 H878.75 V338.1 H879.50 V338.8 H880.25 V338.0 H880.99 V338.0 H881.74 V338.3 H882.49 V338.5 H883.23 V339.4 H883.98 V340.5 H884.73 V340.6 H885.47 V341.2 H886.22 V341.1 H886.97 V341.2 H887.71 V341.0 H888.46 V341.9 H889.21 V343.6 H889.95 V345.3 H890.70 V346.6 Z" fill="#0fb36f"/>
<path d="M80.00,346.6 V346.6 H80.75 V346.6 H81.49 V346.6 H82.24 V346.6 H82.99 V346.6 H83.73 V346.6 H84.48 V346.6 H85.23 V346.6 H85.97 V346.6 H86.72 V346.6 H87.46 V346.6 H88.21 V346.6 H88.96 V346.6 H89.70 V346.6 H90.45 V346.6 H91.20 V346.6 H91.94 V346.6 H92.69 V346.6 H93.44 V346.6 H94.18 V346.6 H94.93 V346.6 H95.68 V346.6 H96.42 V346.6 H97.17 V346.6 H97.92 V346.6 H98.66 V346.6 H99.41 V346.6 H100.16 V346.6 H100.90 V346.6 H101.65 V346.6 H102.39 V346.6 H103.14 V346.6 H103.89 V346.6 H104.63 V346.6 H105.38 V346.6 H106.13 V346.6 H106.87 V346.6 H107.62 V346.6 H108.37 V346.6 H109.11 V346.6 H109.86 V346.6 H110.61 V346.6 H111.35 V346.6 H112.10 V346.6 H112.85 V346.6 H113.59 V346.6 H114.34 V346.6 H115.09 V346.6 H115.83 V346.6 H116.58 V346.6 H117.32 V346.6 H118.07 V346.6 H118.82 V346.6 H119.56 V346.6 H120.31 V346.6 H121.06 V346.6 H121.80 V346.6 H122.55 V346.6 H123.30 V346.6 H124.04 V346.6 H124.79 V346.6 H125.54 V346.6 H126.28 V346.6 H127.03 V346.6 H127.78 V346.6 H128.52 V346.6 H129.27 V346.6 H130.02 V346.6 H130.76 V346.6 H131.51 V346.6 H132.25 V346.6 H133.00 V346.6 H133.75 V346.6 H134.49 V346.6 H135.24 V346.6 H135.99 V346.6 H136.73 V346.6 H137.48 V346.6 H138.23 V346.6 H138.97 V346.6 H139.72 V346.6 H140.47 V346.6 H141.21 V346.6 H141.96 V346.6 H142.71 V346.6 H143.45 V346.6 H144.20 V346.6 H144.95 V346.6 H145.69 V346.6 H146.44 V346.6 H147.18 V346.6 H147.93 V349.2 H148.68 V350.8 H149.42 V354.2 H150.17 V360.2 H150.92 V360.5 H151.66 V361.0 H152.41 V354.4 H153.16 V354.3 H153.90 V356.7 H154.65 V359.4 H155.40 V359.9 H156.14 V364.4 H156.89 V351.6 H157.64 V350.1 H158.38 V346.6 H159.13 V346.6 H159.88 V346.6 H160.62 V346.6 H161.37 V346.6 H162.11 V346.6 H162.86 V346.6 H163.61 V346.6 H164.35 V347.3 H165.10 V348.1 H165.85 V349.9 H166.59 V350.6 H167.34 V351.5 H168.09 V351.1 H168.83 V349.3 H169.58 V348.1 H170.33 V346.6 H171.07 V346.6 H171.82 V346.6 H172.57 V346.6 H173.31 V346.6 H174.06 V346.6 H174.81 V346.6 H175.55 V346.6 H176.30 V346.6 H177.04 V346.6 H177.79 V346.6 H178.54 V346.6 H179.28 V352.4 H180.03 V350.9 H180.78 V349.8 H181.52 V350.2 H182.27 V350.5 H183.02 V350.2 H183.76 V348.4 H184.51 V346.6 H185.26 V346.6 H186.00 V346.6 H186.75 V346.6 H187.50 V346.6 H188.24 V346.6 H188.99 V346.6 H189.74 V346.6 H190.48 V346.6 H191.23 V346.6 H191.97 V346.6 H192.72 V346.6 H193.47 V346.6 H194.21 V346.6 H194.96 V346.6 H195.71 V346.6 H196.45 V346.6 H197.20 V346.6 H197.95 V346.6 H198.69 V346.6 H199.44 V346.6 H200.19 V346.6 H200.93 V346.6 H201.68 V346.6 H202.43 V346.6 H203.17 V346.6 H203.92 V346.6 H204.67 V346.6 H205.41 V346.6 H206.16 V346.6 H206.90 V346.6 H207.65 V346.6 H208.40 V346.6 H209.14 V346.6 H209.89 V346.6 H210.64 V346.6 H211.38 V346.6 H212.13 V346.6 H212.88 V346.6 H213.62 V346.6 H214.37 V346.6 H215.12 V346.6 H215.86 V346.6 H216.61 V346.6 H217.36 V346.6 H218.10 V346.6 H218.85 V346.6 H219.60 V346.6 H220.34 V346.6 H221.09 V346.6 H221.83 V346.6 H222.58 V346.6 H223.33 V346.6 H224.07 V346.6 H224.82 V346.6 H225.57 V346.6 H226.31 V346.6 H227.06 V346.6 H227.81 V346.6 H228.55 V346.6 H229.30 V346.6 H230.05 V346.6 H230.79 V346.6 H231.54 V346.6 H232.29 V346.6 H233.03 V346.6 H233.78 V346.6 H234.53 V346.6 H235.27 V346.6 H236.02 V346.6 H236.76 V346.6 H237.51 V346.6 H238.26 V346.6 H239.00 V346.6 H239.75 V346.6 H240.50 V349.4 H241.24 V350.2 H241.99 V350.7 H242.74 V350.3 H243.48 V350.5 H244.23 V351.2 H244.98 V349.6 H245.72 V348.4 H246.47 V346.6 H247.22 V346.6 H247.96 V346.6 H248.71 V346.6 H249.46 V346.6 H250.20 V346.6 H250.95 V346.6 H251.69 V346.6 H252.44 V346.6 H253.19 V346.6 H253.93 V346.6 H254.68 V346.6 H255.43 V346.6 H256.17 V346.6 H256.92 V346.6 H257.67 V346.6 H258.41 V346.6 H259.16 V346.6 H259.91 V346.6 H260.65 V346.6 H261.40 V346.6 H262.15 V346.6 H262.89 V346.6 H263.64 V346.6 H264.39 V346.6 H265.13 V346.6 H265.88 V346.6 H266.62 V346.6 H267.37 V346.6 H268.12 V346.6 H268.86 V346.6 H269.61 V346.6 H270.36 V347.3 H271.10 V346.6 H271.85 V346.6 H272.60 V346.6 H273.34 V346.6 H274.09 V346.6 H274.84 V346.6 H275.58 V346.6 H276.33 V346.6 H277.08 V346.6 H277.82 V346.6 H278.57 V346.6 H279.32 V346.6 H280.06 V346.6 H280.81 V346.6 H281.56 V346.6 H282.30 V346.6 H283.05 V346.6 H283.79 V346.6 H284.54 V346.6 H285.29 V346.6 H286.03 V346.6 H286.78 V346.6 H287.53 V346.6 H288.27 V346.6 H289.02 V346.6 H289.77 V346.6 H290.51 V346.6 H291.26 V346.6 H292.01 V346.6 H292.75 V346.6 H293.50 V346.6 H294.25 V346.6 H294.99 V350.7 H295.74 V352.2 H296.49 V351.2 H297.23 V348.0 H297.98 V346.6 H298.72 V346.6 H299.47 V346.6 H300.22 V346.6 H300.96 V346.6 H301.71 V346.6 H302.46 V346.6 H303.20 V346.6 H303.95 V346.6 H304.70 V346.6 H305.44 V346.6 H306.19 V346.6 H306.94 V346.6 H307.68 V346.6 H308.43 V346.6 H309.18 V346.6 H309.92 V346.6 H310.67 V346.6 H311.42 V346.6 H312.16 V346.6 H312.91 V346.6 H313.65 V346.6 H314.40 V346.6 H315.15 V346.6 H315.89 V346.6 H316.64 V346.6 H317.39 V346.6 H318.13 V346.6 H318.88 V346.6 H319.63 V346.6 H320.37 V346.6 H321.12 V346.6 H321.87 V346.6 H322.61 V346.6 H323.36 V346.6 H324.11 V346.6 H324.85 V346.6 H325.60 V347.5 H326.35 V348.3 H327.09 V348.0 H327.84 V349.0 H328.58 V351.6 H329.33 V357.0 H330.08 V362.0 H330.82 V366.4 H331.57 V362.1 H332.32 V359.4 H333.06 V359.7 H333.81 V359.4 H334.56 V357.9 H335.30 V357.9 H336.05 V357.3 H336.80 V357.7 H337.54 V358.8 H338.29 V359.6 H339.04 V365.0 H339.78 V371.0 H340.53 V372.6 H341.28 V370.8 H342.02 V370.0 H342.77 V372.5 H343.51 V370.9 H344.26 V372.0 H345.01 V371.3 H345.75 V373.6 H346.50 V374.0 H347.25 V373.1 H347.99 V372.8 H348.74 V375.8 H349.49 V376.5 H350.23 V375.1 H350.98 V378.1 H351.73 V381.8 H352.47 V380.1 H353.22 V378.4 H353.97 V374.8 H354.71 V373.7 H355.46 V378.1 H356.21 V383.9 H356.95 V387.0 H357.70 V383.9 H358.44 V384.3 H359.19 V383.0 H359.94 V381.2 H360.68 V378.3 H361.43 V378.0 H362.18 V375.4 H362.92 V375.4 H363.67 V375.7 H364.42 V376.5 H365.16 V376.9 H365.91 V380.0 H366.66 V379.5 H367.40 V382.9 H368.15 V385.0 H368.90 V386.1 H369.64 V389.1 H370.39 V389.1 H371.14 V385.8 H371.88 V382.7 H372.63 V385.8 H373.37 V384.8 H374.12 V382.9 H374.87 V382.9 H375.61 V387.2 H376.36 V392.2 H377.11 V395.4 H377.85 V395.1 H378.60 V394.7 H379.35 V400.1 H380.09 V408.1 H380.84 V411.2 H381.59 V413.5 H382.33 V411.2 H383.08 V413.1 H383.83 V416.7 H384.57 V420.7 H385.32 V422.3 H386.07 V423.4 H386.81 V423.6 H387.56 V427.1 H388.30 V428.8 H389.05 V427.4 H389.80 V421.6 H390.54 V420.7 H391.29 V421.9 H392.04 V424.4 H392.78 V422.0 H393.53 V428.8 H394.28 V426.8 H395.02 V426.2 H395.77 V423.4 H396.52 V421.1 H397.26 V416.5 H398.01 V414.1 H398.76 V409.1 H399.50 V408.9 H400.25 V405.5 H401.00 V404.6 H401.74 V402.0 H402.49 V397.6 H403.23 V392.5 H403.98 V387.9 H404.73 V384.1 H405.47 V379.2 H406.22 V374.9 H406.97 V370.6 H407.71 V368.1 H408.46 V366.4 H409.21 V363.9 H409.95 V361.9 H410.70 V360.2 H411.45 V358.9 H412.19 V359.7 H412.94 V357.8 H413.69 V356.4 H414.43 V355.6 H415.18 V353.4 H415.93 V352.0 H416.67 V351.2 H417.42 V350.0 H418.16 V350.7 H418.91 V352.1 H419.66 V352.9 H420.40 V354.0 H421.15 V354.6 H421.90 V355.6 H422.64 V356.9 H423.39 V358.8 H424.14 V359.5 H424.88 V360.8 H425.63 V359.5 H426.38 V358.7 H427.12 V360.2 H427.87 V362.0 H428.62 V361.9 H429.36 V361.8 H430.11 V361.4 H430.86 V362.9 H431.60 V361.6 H432.35 V360.3 H433.09 V360.4 H433.84 V361.4 H434.59 V362.8 H435.33 V362.4 H436.08 V363.2 H436.83 V364.3 H437.57 V365.0 H438.32 V365.3 H439.07 V366.8 H439.81 V365.8 H440.56 V365.7 H441.31 V365.1 H442.05 V364.0 H442.80 V362.5 H443.55 V362.6 H444.29 V361.1 H445.04 V360.0 H445.79 V359.9 H446.53 V359.3 H447.28 V358.5 H448.02 V358.4 H448.77 V359.4 H449.52 V360.2 H450.26 V360.6 H451.01 V361.4 H451.76 V360.9 H452.50 V361.5 H453.25 V363.9 H454.00 V365.4 H454.74 V362.9 H455.49 V362.0 H456.24 V360.5 H456.98 V359.5 H457.73 V359.4 H458.48 V359.7 H459.22 V360.1 H459.97 V361.0 H460.72 V361.1 H461.46 V363.0 H462.21 V364.8 H462.95 V368.1 H463.70 V365.9 H464.45 V365.2 H465.19 V363.1 H465.94 V362.8 H466.69 V363.8 H467.43 V363.6 H468.18 V363.4 H468.93 V363.5 H469.67 V364.5 H470.42 V365.5 H471.17 V366.3 H471.91 V364.5 H472.66 V359.4 H473.41 V354.3 H474.15 V351.4 H474.90 V349.0 H475.65 V348.0 H476.39 V347.4 H477.14 V346.6 H477.88 V346.6 H478.63 V346.6 H479.38 V346.6 H480.12 V347.6 H480.87 V348.1 H481.62 V348.6 H482.36 V347.8 H483.11 V346.6 H483.86 V346.6 H484.60 V346.6 H485.35 V346.6 H486.10 V346.6 H486.84 V346.6 H487.59 V346.6 H488.34 V346.6 H489.08 V346.6 H489.83 V346.6 H490.58 V346.6 H491.32 V346.6 H492.07 V346.6 H492.81 V346.6 H493.56 V346.6 H494.31 V346.6 H495.05 V346.6 H495.80 V346.6 H496.55 V346.6 H497.29 V347.4 H498.04 V346.6 H498.79 V346.6 H499.53 V346.6 H500.28 V346.6 H501.03 V346.6 H501.77 V346.6 H502.52 V346.6 H503.27 V346.6 H504.01 V346.6 H504.76 V346.6 H505.51 V346.6 H506.25 V346.6 H507.00 V346.6 H507.74 V346.6 H508.49 V346.6 H509.24 V346.6 H509.98 V346.6 H510.73 V346.6 H511.48 V346.6 H512.22 V346.6 H512.97 V346.6 H513.72 V346.6 H514.46 V346.6 H515.21 V346.6 H515.96 V346.6 H516.70 V346.6 H517.45 V346.6 H518.20 V346.6 H518.94 V346.6 H519.69 V346.6 H520.44 V346.6 H521.18 V346.6 H521.93 V346.6 H522.67 V346.6 H523.42 V346.6 H524.17 V346.6 H524.91 V346.6 H525.66 V346.6 H526.41 V346.6 H527.15 V346.6 H527.90 V346.6 H528.65 V346.6 H529.39 V346.6 H530.14 V346.6 H530.89 V346.6 H531.63 V346.6 H532.38 V346.6 H533.13 V346.6 H533.87 V346.6 H534.62 V346.6 H535.37 V346.6 H536.11 V346.6 H536.86 V346.6 H537.60 V346.6 H538.35 V346.6 H539.10 V346.6 H539.84 V346.6 H540.59 V346.6 H541.34 V346.6 H542.08 V346.6 H542.83 V346.6 H543.58 V346.6 H544.32 V346.6 H545.07 V346.6 H545.82 V346.6 H546.56 V346.6 H547.31 V346.6 H548.06 V346.6 H548.80 V346.6 H549.55 V346.6 H550.30 V346.6 H551.04 V346.6 H551.79 V346.6 H552.53 V346.6 H553.28 V346.6 H554.03 V346.6 H554.77 V346.6 H555.52 V346.6 H556.27 V346.6 H557.01 V346.6 H557.76 V346.6 H558.51 V346.6 H559.25 V346.6 H560.00 V346.6 H560.75 V346.6 H561.49 V346.6 H562.24 V346.6 H562.99 V346.6 H563.73 V346.6 H564.48 V346.6 H565.23 V346.6 H565.97 V346.6 H566.72 V346.6 H567.46 V346.6 H568.21 V346.6 H568.96 V346.6 H569.70 V346.6 H570.45 V346.6 H571.20 V346.6 H571.94 V346.6 H572.69 V346.6 H573.44 V346.6 H574.18 V346.6 H574.93 V346.6 H575.68 V346.6 H576.42 V346.6 H577.17 V346.6 H577.92 V346.6 H578.66 V346.6 H579.41 V346.6 H580.16 V346.6 H580.90 V346.6 H581.65 V346.6 H582.39 V346.6 H583.14 V346.6 H583.89 V346.6 H584.63 V346.6 H585.38 V346.6 H586.13 V346.6 H586.87 V346.6 H587.62 V346.6 H588.37 V346.6 H589.11 V346.6 H589.86 V346.6 H590.61 V346.6 H591.35 V346.6 H592.10 V346.6 H592.85 V346.6 H593.59 V346.6 H594.34 V346.6 H595.09 V346.6 H595.83 V346.6 H596.58 V346.6 H597.32 V346.6 H598.07 V346.6 H598.82 V346.6 H599.56 V346.6 H600.31 V346.6 H601.06 V346.6 H601.80 V346.6 H602.55 V346.6 H603.30 V346.6 H604.04 V346.6 H604.79 V346.6 H605.54 V346.6 H606.28 V346.6 H607.03 V346.6 H607.78 V346.6 H608.52 V346.6 H609.27 V346.6 H610.02 V346.6 H610.76 V346.6 H611.51 V346.6 H612.25 V346.6 H613.00 V346.6 H613.75 V346.6 H614.49 V346.6 H615.24 V346.6 H615.99 V346.6 H616.73 V346.6 H617.48 V346.6 H618.23 V346.6 H618.97 V346.6 H619.72 V346.6 H620.47 V346.6 H621.21 V346.6 H621.96 V346.6 H622.71 V346.6 H623.45 V346.6 H624.20 V346.6 H624.95 V346.6 H625.69 V346.6 H626.44 V346.6 H627.18 V346.6 H627.93 V346.6 H628.68 V346.6 H629.42 V346.6 H630.17 V346.6 H630.92 V346.6 H631.66 V346.6 H632.41 V346.6 H633.16 V346.6 H633.90 V346.6 H634.65 V346.6 H635.40 V346.6 H636.14 V346.6 H636.89 V346.6 H637.64 V346.6 H638.38 V346.6 H639.13 V346.6 H639.88 V346.6 H640.62 V346.6 H641.37 V346.6 H642.11 V346.6 H642.86 V346.6 H643.61 V346.6 H644.35 V349.1 H645.10 V349.7 H645.85 V350.1 H646.59 V350.1 H647.34 V351.1 H648.09 V351.4 H648.83 V353.2 H649.58 V356.8 H650.33 V351.4 H651.07 V348.9 H651.82 V348.5 H652.57 V347.7 H653.31 V346.6 H654.06 V346.6 H654.81 V346.6 H655.55 V346.6 H656.30 V346.6 H657.04 V346.6 H657.79 V346.6 H658.54 V346.6 H659.28 V346.6 H660.03 V346.6 H660.78 V346.6 H661.52 V346.6 H662.27 V346.6 H663.02 V346.6 H663.76 V346.6 H664.51 V346.6 H665.26 V346.6 H666.00 V346.6 H666.75 V346.6 H667.50 V346.6 H668.24 V346.6 H668.99 V346.6 H669.74 V346.6 H670.48 V346.6 H671.23 V346.6 H671.97 V346.6 H672.72 V346.6 H673.47 V346.6 H674.21 V346.6 H674.96 V346.6 H675.71 V346.6 H676.45 V346.6 H677.20 V346.6 H677.95 V346.6 H678.69 V346.6 H679.44 V346.6 H680.19 V346.6 H680.93 V346.6 H681.68 V346.6 H682.43 V346.6 H683.17 V346.6 H683.92 V346.6 H684.67 V346.6 H685.41 V346.6 H686.16 V346.6 H686.90 V346.6 H687.65 V346.6 H688.40 V346.6 H689.14 V346.6 H689.89 V346.6 H690.64 V346.6 H691.38 V346.6 H692.13 V346.6 H692.88 V346.6 H693.62 V346.6 H694.37 V346.6 H695.12 V346.6 H695.86 V347.4 H696.61 V349.8 H697.36 V351.4 H698.10 V353.0 H698.85 V358.9 H699.60 V361.8 H700.34 V359.9 H701.09 V357.4 H701.83 V357.6 H702.58 V357.6 H703.33 V358.8 H704.07 V359.0 H704.82 V360.2 H705.57 V360.6 H706.31 V361.1 H707.06 V361.8 H707.81 V361.3 H708.55 V362.2 H709.30 V363.0 H710.05 V363.6 H710.79 V363.6 H711.54 V364.9 H712.29 V364.8 H713.03 V363.9 H713.78 V364.9 H714.52 V364.4 H715.27 V364.9 H716.02 V364.2 H716.76 V365.2 H717.51 V366.6 H718.26 V367.8 H719.00 V370.1 H719.75 V368.3 H720.50 V365.6 H721.24 V359.8 H721.99 V356.4 H722.74 V355.2 H723.48 V355.6 H724.23 V357.2 H724.98 V356.2 H725.72 V356.3 H726.47 V355.6 H727.22 V354.1 H727.96 V353.3 H728.71 V353.6 H729.45 V351.8 H730.20 V350.2 H730.95 V352.6 H731.69 V354.6 H732.44 V355.9 H733.19 V355.4 H733.93 V352.7 H734.68 V350.6 H735.43 V349.7 H736.17 V349.2 H736.92 V348.9 H737.67 V348.0 H738.41 V346.6 H739.16 V346.6 H739.91 V346.6 H740.65 V346.6 H741.40 V346.6 H742.15 V346.6 H742.89 V346.6 H743.64 V346.6 H744.38 V346.6 H745.13 V346.6 H745.88 V346.6 H746.62 V346.6 H747.37 V346.6 H748.12 V346.6 H748.86 V346.6 H749.61 V346.6 H750.36 V346.6 H751.10 V346.6 H751.85 V346.6 H752.60 V346.6 H753.34 V346.6 H754.09 V346.6 H754.84 V346.6 H755.58 V346.6 H756.33 V346.6 H757.08 V346.6 H757.82 V346.6 H758.57 V346.6 H759.31 V346.6 H760.06 V346.6 H760.81 V346.6 H761.55 V346.6 H762.30 V346.6 H763.05 V346.6 H763.79 V346.6 H764.54 V346.6 H765.29 V346.6 H766.03 V346.6 H766.78 V346.6 H767.53 V346.6 H768.27 V346.6 H769.02 V346.6 H769.77 V346.6 H770.51 V346.6 H771.26 V346.6 H772.01 V346.6 H772.75 V346.6 H773.50 V346.6 H774.24 V346.6 H774.99 V346.6 H775.74 V346.6 H776.48 V346.6 H777.23 V346.6 H777.98 V346.6 H778.72 V348.3 H779.47 V351.6 H780.22 V356.2 H780.96 V358.1 H781.71 V358.4 H782.46 V358.8 H783.20 V357.6 H783.95 V359.0 H784.70 V359.8 H785.44 V361.6 H786.19 V361.6 H786.94 V362.0 H787.68 V361.3 H788.43 V359.7 H789.17 V358.7 H789.92 V362.8 H790.67 V366.0 H791.41 V363.5 H792.16 V361.4 H792.91 V360.0 H793.65 V359.3 H794.40 V358.6 H795.15 V356.9 H795.89 V355.4 H796.64 V355.9 H797.39 V355.8 H798.13 V355.1 H798.88 V353.7 H799.63 V351.4 H800.37 V350.9 H801.12 V349.4 H801.87 V348.2 H802.61 V346.6 H803.36 V346.6 H804.10 V346.6 H804.85 V346.6 H805.60 V346.6 H806.34 V352.1 H807.09 V352.4 H807.84 V352.5 H808.58 V352.9 H809.33 V352.0 H810.08 V351.9 H810.82 V352.4 H811.57 V352.6 H812.32 V349.9 H813.06 V346.6 H813.81 V346.6 H814.56 V346.6 H815.30 V346.6 H816.05 V346.6 H816.80 V346.6 H817.54 V346.6 H818.29 V346.6 H819.03 V346.6 H819.78 V346.6 H820.53 V346.6 H821.27 V346.6 H822.02 V346.6 H822.77 V346.6 H823.51 V346.6 H824.26 V346.6 H825.01 V346.6 H825.75 V346.6 H826.50 V346.6 H827.25 V346.6 H827.99 V346.6 H828.74 V346.6 H829.49 V346.6 H830.23 V346.6 H830.98 V346.6 H831.73 V346.6 H832.47 V346.6 H833.22 V346.6 H833.96 V346.6 H834.71 V346.6 H835.46 V346.6 H836.20 V346.6 H836.95 V346.6 H837.70 V346.6 H838.44 V346.6 H839.19 V346.6 H839.94 V346.6 H840.68 V346.6 H841.43 V346.6 H842.18 V346.6 H842.92 V346.6 H843.67 V346.6 H844.42 V346.6 H845.16 V346.6 H845.91 V346.6 H846.66 V346.6 H847.40 V346.6 H848.15 V346.6 H848.89 V346.6 H849.64 V346.6 H850.39 V346.6 H851.13 V346.6 H851.88 V346.6 H852.63 V346.6 H853.37 V346.6 H854.12 V346.6 H854.87 V346.6 H855.61 V346.6 H856.36 V346.6 H857.11 V346.6 H857.85 V346.6 H858.60 V346.6 H859.35 V346.6 H860.09 V346.6 H860.84 V346.6 H861.59 V346.6 H862.33 V346.6 H863.08 V346.6 H863.82 V346.6 H864.57 V346.6 H865.32 V346.6 H866.06 V346.6 H866.81 V346.6 H867.56 V346.6 H868.30 V346.6 H869.05 V346.6 H869.80 V346.6 H870.54 V346.6 H871.29 V346.6 H872.04 V346.6 H872.78 V346.6 H873.53 V346.6 H874.28 V346.6 H875.02 V346.6 H875.77 V346.6 H876.52 V346.6 H877.26 V346.6 H878.01 V346.6 H878.75 V346.6 H879.50 V346.6 H880.25 V346.6 H880.99 V346.6 H881.74 V346.6 H882.49 V346.6 H883.23 V346.6 H883.98 V346.6 H884.73 V346.6 H885.47 V346.6 H886.22 V346.6 H886.97 V346.6 H887.71 V346.6 H888.46 V346.6 H889.21 V346.6 H889.95 V346.6 H890.70 V346.6 L890.9,346.6 L892.9,348 L894.1,350.3 L895,353.7 L895.5,359 L895.7,370.3 L896.7,370.3 L897.1,355 L897.1,346.6 Z" fill="#f86060"/>
<g clip-path="url(#barclip)"><line x1="82.5" x2="82.5" y1="250" y2="470" stroke="#fff" stroke-opacity="0.5" stroke-width="1.1"/><line x1="90.8" x2="90.8" y1="250" y2="470" stroke="#fff" stroke-opacity="0.5" stroke-width="1.1"/><line x1="99.2" x2="99.2" y1="250" y2="470" stroke="#fff" stroke-opacity="0.5" stroke-width="1.1"/><line x1="107.5" x2="107.5" y1="250" y2="470" stroke="#fff" stroke-opacity="0.5" stroke-width="1.1"/><line x1="115.8" x2="115.8" y1="250" y2="470" stroke="#fff" stroke-opacity="0.5" stroke-width="1.1"/><line x1="124.2" x2="124.2" y1="250" y2="470" stroke="#fff" stroke-opacity="0.5" stroke-width="1.1"/><line x1="132.5" x2="132.5" y1="250" y2="470" stroke="#fff" stroke-opacity="0.5" stroke-width="1.1"/><line x1="140.8" x2="140.8" y1="250" y2="470" stroke="#fff" stroke-opacity="0.5" stroke-width="1.1"/><line x1="149.2" x2="149.2" y1="250" y2="470" stroke="#fff" stroke-opacity="0.5" stroke-width="1.1"/><line x1="276.6" x2="276.6" y1="250" y2="470" stroke="#fff" stroke-opacity="0.5" stroke-width="1.1"/><line x1="284.9" x2="284.9" y1="250" y2="470" stroke="#fff" stroke-opacity="0.5" stroke-width="1.1"/><line x1="293.2" x2="293.2" y1="250" y2="470" stroke="#fff" stroke-opacity="0.5" stroke-width="1.1"/><line x1="301.5" x2="301.5" y1="250" y2="470" stroke="#fff" stroke-opacity="0.5" stroke-width="1.1"/><line x1="309.8" x2="309.8" y1="250" y2="470" stroke="#fff" stroke-opacity="0.5" stroke-width="1.1"/><line x1="318.1" x2="318.1" y1="250" y2="470" stroke="#fff" stroke-opacity="0.5" stroke-width="1.1"/><line x1="326.4" x2="326.4" y1="250" y2="470" stroke="#fff" stroke-opacity="0.5" stroke-width="1.1"/><line x1="334.7" x2="334.7" y1="250" y2="470" stroke="#fff" stroke-opacity="0.5" stroke-width="1.1"/><line x1="343.0" x2="343.0" y1="250" y2="470" stroke="#fff" stroke-opacity="0.5" stroke-width="1.1"/><line x1="351.3" x2="351.3" y1="250" y2="470" stroke="#fff" stroke-opacity="0.5" stroke-width="1.1"/><line x1="359.6" x2="359.6" y1="250" y2="470" stroke="#fff" stroke-opacity="0.5" stroke-width="1.1"/><line x1="367.9" x2="367.9" y1="250" y2="470" stroke="#fff" stroke-opacity="0.5" stroke-width="1.1"/><line x1="376.2" x2="376.2" y1="250" y2="470" stroke="#fff" stroke-opacity="0.5" stroke-width="1.1"/><line x1="384.5" x2="384.5" y1="250" y2="470" stroke="#fff" stroke-opacity="0.5" stroke-width="1.1"/><line x1="392.8" x2="392.8" y1="250" y2="470" stroke="#fff" stroke-opacity="0.5" stroke-width="1.1"/><line x1="401.1" x2="401.1" y1="250" y2="470" stroke="#fff" stroke-opacity="0.5" stroke-width="1.1"/><line x1="409.4" x2="409.4" y1="250" y2="470" stroke="#fff" stroke-opacity="0.5" stroke-width="1.1"/><line x1="417.7" x2="417.7" y1="250" y2="470" stroke="#fff" stroke-opacity="0.5" stroke-width="1.1"/><line x1="426.0" x2="426.0" y1="250" y2="470" stroke="#fff" stroke-opacity="0.5" stroke-width="1.1"/><line x1="434.3" x2="434.3" y1="250" y2="470" stroke="#fff" stroke-opacity="0.5" stroke-width="1.1"/><line x1="442.6" x2="442.6" y1="250" y2="470" stroke="#fff" stroke-opacity="0.5" stroke-width="1.1"/><line x1="450.9" x2="450.9" y1="250" y2="470" stroke="#fff" stroke-opacity="0.5" stroke-width="1.1"/><line x1="459.2" x2="459.2" y1="250" y2="470" stroke="#fff" stroke-opacity="0.5" stroke-width="1.1"/><line x1="467.5" x2="467.5" y1="250" y2="470" stroke="#fff" stroke-opacity="0.5" stroke-width="1.1"/><line x1="475.8" x2="475.8" y1="250" y2="470" stroke="#fff" stroke-opacity="0.5" stroke-width="1.1"/><line x1="487.8" x2="487.8" y1="250" y2="470" stroke="#fff" stroke-opacity="0.5" stroke-width="1.1"/><line x1="496.2" x2="496.2" y1="250" y2="470" stroke="#fff" stroke-opacity="0.5" stroke-width="1.1"/><line x1="504.5" x2="504.5" y1="250" y2="470" stroke="#fff" stroke-opacity="0.5" stroke-width="1.1"/><line x1="512.8" x2="512.8" y1="250" y2="470" stroke="#fff" stroke-opacity="0.5" stroke-width="1.1"/><line x1="521.2" x2="521.2" y1="250" y2="470" stroke="#fff" stroke-opacity="0.5" stroke-width="1.1"/><line x1="529.5" x2="529.5" y1="250" y2="470" stroke="#fff" stroke-opacity="0.5" stroke-width="1.1"/><line x1="537.8" x2="537.8" y1="250" y2="470" stroke="#fff" stroke-opacity="0.5" stroke-width="1.1"/><line x1="546.2" x2="546.2" y1="250" y2="470" stroke="#fff" stroke-opacity="0.5" stroke-width="1.1"/><line x1="554.5" x2="554.5" y1="250" y2="470" stroke="#fff" stroke-opacity="0.5" stroke-width="1.1"/><line x1="562.8" x2="562.8" y1="250" y2="470" stroke="#fff" stroke-opacity="0.5" stroke-width="1.1"/><line x1="571.2" x2="571.2" y1="250" y2="470" stroke="#fff" stroke-opacity="0.5" stroke-width="1.1"/><line x1="579.5" x2="579.5" y1="250" y2="470" stroke="#fff" stroke-opacity="0.5" stroke-width="1.1"/><line x1="587.9" x2="587.9" y1="250" y2="470" stroke="#fff" stroke-opacity="0.5" stroke-width="1.1"/><line x1="596.2" x2="596.2" y1="250" y2="470" stroke="#fff" stroke-opacity="0.5" stroke-width="1.1"/><line x1="604.5" x2="604.5" y1="250" y2="470" stroke="#fff" stroke-opacity="0.5" stroke-width="1.1"/><line x1="612.9" x2="612.9" y1="250" y2="470" stroke="#fff" stroke-opacity="0.5" stroke-width="1.1"/><line x1="621.2" x2="621.2" y1="250" y2="470" stroke="#fff" stroke-opacity="0.5" stroke-width="1.1"/><line x1="629.5" x2="629.5" y1="250" y2="470" stroke="#fff" stroke-opacity="0.5" stroke-width="1.1"/><line x1="637.9" x2="637.9" y1="250" y2="470" stroke="#fff" stroke-opacity="0.5" stroke-width="1.1"/><line x1="646.2" x2="646.2" y1="250" y2="470" stroke="#fff" stroke-opacity="0.5" stroke-width="1.1"/><line x1="654.5" x2="654.5" y1="250" y2="470" stroke="#fff" stroke-opacity="0.5" stroke-width="1.1"/><line x1="662.9" x2="662.9" y1="250" y2="470" stroke="#fff" stroke-opacity="0.5" stroke-width="1.1"/><line x1="671.2" x2="671.2" y1="250" y2="470" stroke="#fff" stroke-opacity="0.5" stroke-width="1.1"/><line x1="679.5" x2="679.5" y1="250" y2="470" stroke="#fff" stroke-opacity="0.5" stroke-width="1.1"/><line x1="687.9" x2="687.9" y1="250" y2="470" stroke="#fff" stroke-opacity="0.5" stroke-width="1.1"/><line x1="696.2" x2="696.2" y1="250" y2="470" stroke="#fff" stroke-opacity="0.5" stroke-width="1.1"/><line x1="692.1" x2="692.1" y1="250" y2="470" stroke="#fff" stroke-opacity="0.5" stroke-width="1.1"/><line x1="700.5" x2="700.5" y1="250" y2="470" stroke="#fff" stroke-opacity="0.5" stroke-width="1.1"/><line x1="708.9" x2="708.9" y1="250" y2="470" stroke="#fff" stroke-opacity="0.5" stroke-width="1.1"/><line x1="717.3" x2="717.3" y1="250" y2="470" stroke="#fff" stroke-opacity="0.5" stroke-width="1.1"/><line x1="725.7" x2="725.7" y1="250" y2="470" stroke="#fff" stroke-opacity="0.5" stroke-width="1.1"/><line x1="734.1" x2="734.1" y1="250" y2="470" stroke="#fff" stroke-opacity="0.5" stroke-width="1.1"/><line x1="742.5" x2="742.5" y1="250" y2="470" stroke="#fff" stroke-opacity="0.5" stroke-width="1.1"/><line x1="750.9" x2="750.9" y1="250" y2="470" stroke="#fff" stroke-opacity="0.5" stroke-width="1.1"/><line x1="759.3" x2="759.3" y1="250" y2="470" stroke="#fff" stroke-opacity="0.5" stroke-width="1.1"/><line x1="767.7" x2="767.7" y1="250" y2="470" stroke="#fff" stroke-opacity="0.5" stroke-width="1.1"/><line x1="776.1" x2="776.1" y1="250" y2="470" stroke="#fff" stroke-opacity="0.5" stroke-width="1.1"/><line x1="784.5" x2="784.5" y1="250" y2="470" stroke="#fff" stroke-opacity="0.5" stroke-width="1.1"/><line x1="792.9" x2="792.9" y1="250" y2="470" stroke="#fff" stroke-opacity="0.5" stroke-width="1.1"/><line x1="801.3" x2="801.3" y1="250" y2="470" stroke="#fff" stroke-opacity="0.5" stroke-width="1.1"/><line x1="809.7" x2="809.7" y1="250" y2="470" stroke="#fff" stroke-opacity="0.5" stroke-width="1.1"/><line x1="818.1" x2="818.1" y1="250" y2="470" stroke="#fff" stroke-opacity="0.5" stroke-width="1.1"/><line x1="826.5" x2="826.5" y1="250" y2="470" stroke="#fff" stroke-opacity="0.5" stroke-width="1.1"/><line x1="834.9" x2="834.9" y1="250" y2="470" stroke="#fff" stroke-opacity="0.5" stroke-width="1.1"/><line x1="843.3" x2="843.3" y1="250" y2="470" stroke="#fff" stroke-opacity="0.5" stroke-width="1.1"/><line x1="851.7" x2="851.7" y1="250" y2="470" stroke="#fff" stroke-opacity="0.5" stroke-width="1.1"/><line x1="860.1" x2="860.1" y1="250" y2="470" stroke="#fff" stroke-opacity="0.5" stroke-width="1.1"/><line x1="868.5" x2="868.5" y1="250" y2="470" stroke="#fff" stroke-opacity="0.5" stroke-width="1.1"/><line x1="876.9" x2="876.9" y1="250" y2="470" stroke="#fff" stroke-opacity="0.5" stroke-width="1.1"/><line x1="885.3" x2="885.3" y1="250" y2="470" stroke="#fff" stroke-opacity="0.5" stroke-width="1.1"/><line x1="893.7" x2="893.7" y1="250" y2="470" stroke="#fff" stroke-opacity="0.5" stroke-width="1.1"/><line x1="154.0" x2="154.0" y1="250" y2="470" stroke="#fff" stroke-opacity="0.5" stroke-width="1.1"/><line x1="162.3" x2="162.3" y1="250" y2="470" stroke="#fff" stroke-opacity="0.5" stroke-width="1.1"/><line x1="170.7" x2="170.7" y1="250" y2="470" stroke="#fff" stroke-opacity="0.5" stroke-width="1.1"/><line x1="179.0" x2="179.0" y1="250" y2="470" stroke="#fff" stroke-opacity="0.5" stroke-width="1.1"/><line x1="187.3" x2="187.3" y1="250" y2="470" stroke="#fff" stroke-opacity="0.5" stroke-width="1.1"/><line x1="195.7" x2="195.7" y1="250" y2="470" stroke="#fff" stroke-opacity="0.5" stroke-width="1.1"/><line x1="204.0" x2="204.0" y1="250" y2="470" stroke="#fff" stroke-opacity="0.5" stroke-width="1.1"/><line x1="212.3" x2="212.3" y1="250" y2="470" stroke="#fff" stroke-opacity="0.5" stroke-width="1.1"/><line x1="220.7" x2="220.7" y1="250" y2="470" stroke="#fff" stroke-opacity="0.5" stroke-width="1.1"/><line x1="229.0" x2="229.0" y1="250" y2="470" stroke="#fff" stroke-opacity="0.5" stroke-width="1.1"/><line x1="237.4" x2="237.4" y1="250" y2="470" stroke="#fff" stroke-opacity="0.5" stroke-width="1.1"/><line x1="245.7" x2="245.7" y1="250" y2="470" stroke="#fff" stroke-opacity="0.5" stroke-width="1.1"/><line x1="254.0" x2="254.0" y1="250" y2="470" stroke="#fff" stroke-opacity="0.5" stroke-width="1.1"/><line x1="262.4" x2="262.4" y1="250" y2="470" stroke="#fff" stroke-opacity="0.5" stroke-width="1.1"/></g>
<path d="M80.5,411.5 L81.7,417.5 L83.1,410.5 L85.1,406.0 L86.1,409.5 L87.7,412.5 L89.1,413.5 L90.1,409.5 L91.7,408.9 L93.1,412.1 L95.1,414.1 L97.2,416.5 L98.6,426.2 L99.8,415.5 L101.2,413.5 L102.6,410.1 L104.2,413.5 L105.8,414.1 L107.2,411.5 L109.2,414.5 L110.6,418.5 L112.2,411.5 L113.9,400.4 L115.3,399.4 L116.3,402.4 L117.9,398.4 L119.3,389.3 L121.3,388.3 L122.7,387.3 L124.3,390.4 L126.3,394.4 L127.9,395.4 L129.3,384.3 L130.8,379.9 L132.4,380.7 L134.4,382.7 L136.0,377.3 L137.4,373.9 L139.4,372.6 L140.8,369.2 L142.0,368.6 L143.4,373.3 L144.8,370.2 L146.0,377.3 L147.5,376.3 L148.9,372.6 L150.1,378.3 L151.5,388.3 L153.5,391.4 L154.9,392.4 L156.5,387.3 L158.1,384.7 L159.5,390.4 L160.5,400.4 L161.5,402.8 L162.5,403.4 L162.9,448.7 L162.5,449.2 L162.1,458.2 L162.5,465.9 L163.5,450.2 L164.6,455.2 L165.8,461.8 L167.0,454.2 L167.6,444.1 L166.6,448.7 L167.6,435.6 L168.6,434.6 L170.0,442.7 L171.2,428.6 L172.6,424.1 L174.2,430.6 L175.2,439.6 L176.6,428.6 L178.6,421.5 L180.2,422.9 L181.7,415.5 L183.1,412.9 L184.7,418.5 L186.3,423.5 L187.7,424.6 L189.1,416.5 L190.7,414.5 L192.3,420.5 L193.7,412.5 L195.1,408.5 L197.1,404.4 L198.8,390.4 L200.4,387.9 L201.8,387.3 L203.2,380.3 L204.8,373.3 L205.8,375.3 L207.2,391.4 L208.8,384.3 L210.2,376.7 L211.8,377.3 L213.2,376.7 L214.4,384.3 L215.8,385.3 L217.9,389.3 L219.3,387.3 L220.9,379.3 L222.5,378.3 L223.3,370.2 L224.5,378.3 L225.9,377.3 L227.3,375.9 L228.9,376.3 L229.9,375.3 L230.9,380.3 L232.9,379.9 L235.0,378.7 L236.6,381.9 L238.0,380.3 L239.4,377.9 L241.0,382.7 L242.6,384.7 L244.6,383.9 L247.0,385.3 L249.0,383.3 L250.7,380.7 L252.1,382.7 L254.1,382.7 L256.7,383.9 L259.1,383.9 L261.1,381.3 L263.1,378.3 L264.1,371.2 L265.1,361.2 L267.1,359.2 L268.2,352.5 L269.6,357.2 L271.2,353.1 L273.2,351.7 L274.8,352.5 L276.0,350.1 L276.0,355.4 L277.6,351.4 L279.0,348.7 L281.0,348.3 L282.4,351.4 L284.0,352.4 L285.7,354.0 L287.1,352.8 L288.5,354.8 L290.1,354.0 L291.7,350.4 L292.7,358.4 L293.7,367.5 L295.1,369.5 L296.5,370.5 L298.1,369.5 L299.7,368.5 L301.1,365.4 L302.6,361.4 L304.2,360.4 L305.8,360.0 L307.2,364.4 L308.2,369.5 L309.2,365.4 L311.2,364.0 L312.6,362.8 L314.2,364.4 L316.2,365.4 L317.8,363.4 L319.3,360.4 L320.7,358.4 L322.3,354.8 L324.3,355.4 L326.3,354.4 L327.9,351.4 L328.7,344.3 L329.3,339.3 L331.3,337.3 L333.3,334.3 L334.3,332.2 L335.9,333.3 L337.4,331.2 L338.8,327.2 L340.0,322.2 L340.8,316.2 L342.0,317.2 L343.0,320.2 L344.4,314.1 L346.0,310.1 L347.4,312.1 L348.8,305.1 L350.0,299.1 L351.4,294.0 L353.5,292.0 L354.9,293.0 L356.5,303.1 L357.5,298.0 L358.9,290.0 L360.5,288.5 L361.5,287.5 L362.9,290.5 L364.1,287.5 L365.5,292.5 L366.9,296.2 L368.5,290.5 L369.5,284.5 L370.6,276.4 L371.6,268.4 L373.0,261.4 L374.6,264.4 L376.2,262.4 L377.6,254.3 L379.0,247.3 L380.6,242.2 L382.0,236.2 L383.6,224.1 L385.0,219.1 L386.2,206.0 L386.6,200.6 L387.7,192.9 L389.1,192.1 L390.1,200.6 L391.1,215.7 L392.3,197.6 L393.3,205.6 L394.7,206.6 L396.3,209.6 L397.3,215.1 L398.3,228.2 L399.7,221.7 L401.1,221.1 L402.3,230.2 L403.7,218.1 L404.8,214.5 L405.8,216.7 L407.2,206.6 L408.4,202.6 L409.8,197.6 L410.8,184.5 L411.8,177.5 L412.8,175.4 L413.8,172.4 L415.2,171.4 L416.4,169.4 L417.8,164.4 L419.2,154.3 L420.4,148.3 L421.2,149.3 L422.5,164.4 L423.9,171.4 L425.3,175.4 L426.3,178.9 L427.3,168.4 L428.5,165.4 L429.5,169.4 L430.9,167.4 L432.5,158.3 L433.9,150.3 L435.3,144.3 L436.3,140.2 L437.3,149.3 L438.9,145.9 L440.6,146.3 L442.0,149.3 L443.4,155.3 L445.0,161.4 L446.0,154.3 L447.4,149.3 L449.0,145.3 L450.6,143.9 L452.0,145.3 L453.4,144.3 L455.0,150.3 L456.7,145.3 L458.1,142.2 L459.1,135.8 L460.7,135.2 L462.1,140.2 L463.1,148.3 L464.1,152.3 L465.5,155.3 L466.7,162.4 L468.1,168.4 L469.1,158.3 L470.1,154.3 L471.1,155.3 L472.1,148.3 L473.6,148.3 L474.6,157.3 L475.6,148.3 L477.2,147.9 L477.5,147.7 L478.4,145.8 L479.7,149.6 L480.6,157.0 L481.6,165.4 L482.7,167.3 L483.6,174.7 L484.5,180.3 L485.5,185.9 L486.4,203.6 L487.1,193.4 L488.1,204.5 L489.0,212.0 L489.9,199.9 L491.4,197.1 L492.4,200.8 L493.3,212.0 L494.6,206.4 L496.1,202.7 L497.4,198.0 L498.3,203.6 L499.4,208.3 L500.7,216.6 L502.0,204.5 L503.5,203.6 L504.5,196.1 L505.8,193.4 L506.9,198.0 L508.2,203.6 L509.1,209.2 L510.1,210.1 L511.0,224.1 L512.5,213.9 L513.2,224.1 L514.3,217.6 L515.7,212.9 L516.6,209.2 L518.1,214.8 L519.4,212.0 L520.7,211.1 L522.2,215.7 L523.7,216.6 L525.0,214.8 L526.3,219.4 L527.8,221.3 L529.3,224.1 L530.6,225.0 L531.5,224.1 L532.4,232.1 L533.4,223.2 L534.8,216.6 L536.1,208.3 L537.5,198.9 L538.6,194.3 L539.9,188.7 L540.8,192.4 L541.7,196.1 L542.7,200.4 L543.6,194.3 L544.9,185.9 L546.0,180.3 L547.3,176.6 L548.6,179.9 L549.8,175.7 L550.7,172.5 L552.0,174.7 L553.3,179.9 L554.8,173.8 L556.1,168.2 L557.6,167.3 L559.1,169.1 L560.0,172.9 L561.3,169.1 L562.6,173.8 L563.7,170.1 L565.0,167.3 L566.5,164.5 L567.8,159.8 L568.8,167.3 L569.7,174.7 L571.0,179.4 L572.5,178.8 L574.0,176.6 L575.3,171.4 L577.1,171.0 L578.1,177.5 L579.0,185.9 L579.6,192.4 L580.5,180.3 L581.8,185.0 L582.7,184.0 L584.0,187.8 L585.0,190.6 L585.9,185.9 L587.0,171.9 L588.3,170.1 L589.6,161.7 L590.7,153.9 L592.0,156.1 L593.4,153.3 L594.5,148.6 L595.8,150.5 L596.7,145.8 L597.6,140.2 L598.9,138.4 L600.1,133.7 L601.1,130.6 L602.3,137.2 L603.7,140.2 L605.1,139.2 L606.3,145.3 L607.7,138.2 L609.1,137.2 L610.8,136.2 L612.4,138.2 L613.8,137.2 L614.8,130.2 L615.8,127.2 L616.8,132.2 L618.4,133.2 L619.8,131.2 L620.8,137.2 L621.8,142.2 L622.8,148.3 L624.4,143.3 L625.8,149.3 L626.8,145.3 L628.5,150.3 L629.3,156.3 L630.9,148.3 L632.5,148.3 L633.5,153.3 L634.5,162.4 L635.9,168.4 L637.3,164.4 L638.5,170.4 L639.9,166.4 L641.3,173.4 L642.5,169.4 L643.9,175.4 L645.4,174.4 L647.0,170.4 L648.6,164.4 L650.6,164.0 L652.0,164.4 L653.4,173.4 L654.6,175.4 L656.0,173.4 L657.4,176.4 L658.6,182.5 L660.0,189.5 L662.0,188.5 L664.1,183.5 L666.1,184.5 L667.5,186.5 L669.1,190.5 L670.1,200.6 L671.1,211.7 L672.1,206.6 L674.1,204.6 L676.1,202.6 L678.1,199.6 L679.6,204.6 L680.8,195.6 L682.2,186.5 L683.6,182.5 L685.2,181.5 L688.0,180.4 L689.6,182.4 L691.0,194.4 L692.4,200.5 L694.0,204.1 L695.6,200.5 L697.1,199.5 L698.1,188.4 L699.1,182.4 L700.5,181.4 L701.7,189.4 L703.1,199.5 L704.5,194.4 L705.7,189.4 L707.1,196.4 L708.5,201.5 L709.7,194.4 L711.1,191.4 L712.5,188.4 L714.2,190.4 L715.8,184.4 L717.2,180.4 L718.6,175.3 L720.2,172.7 L721.8,175.3 L723.2,177.3 L724.6,173.9 L725.8,178.3 L727.2,184.4 L728.6,186.4 L730.2,191.4 L731.9,195.4 L733.3,190.4 L734.7,192.4 L736.3,190.0 L737.9,193.4 L739.3,195.4 L740.7,194.0 L742.3,197.5 L743.9,196.4 L745.3,200.5 L746.7,195.4 L747.9,204.5 L749.4,209.5 L750.4,218.6 L751.3,228.0 L752.7,236.1 L754.3,229.1 L755.9,234.5 L757.3,230.1 L758.7,236.1 L760.4,232.1 L762.0,235.1 L763.4,233.1 L764.8,237.1 L766.4,228.0 L767.4,224.0 L768.8,231.1 L770.4,229.1 L772.0,226.0 L773.4,228.0 L774.8,233.1 L776.0,242.1 L777.0,256.2 L778.1,268.3 L779.1,269.3 L780.1,280.4 L781.1,289.4 L782.1,280.4 L783.5,279.3 L784.9,276.3 L786.1,274.3 L787.5,278.3 L788.9,282.4 L790.5,286.4 L792.1,288.4 L793.5,282.4 L795.0,275.3 L796.2,273.3 L797.6,280.4 L799.0,287.4 L800.2,280.4 L801.6,278.3 L803.0,271.3 L804.2,265.3 L805.6,263.3 L807.0,267.3 L808.6,275.3 L809.6,268.3 L810.6,261.2 L812.3,263.3 L813.7,265.3 L815.1,266.3 L816.7,267.3 L818.3,264.3 L819.7,263.3 L821.1,259.2 L822.7,258.2 L824.3,259.2 L825.7,262.2 L826.7,268.3 L827.7,277.3 L829.2,274.3 L830.8,273.9 L832.4,278.3 L833.8,284.4 L835.2,283.4 L836.8,284.4 L838.4,283.4 L839.8,286.4 L840.8,290.4 L841.8,284.4 L843.2,273.3 L844.8,270.3 L845.8,279.3 L847.3,284.4 L848.9,283.4 L850.5,288.4 L851.9,292.4 L853.3,289.4 L854.9,290.4 L856.5,288.4 L857.9,289.4 L859.3,287.4 L860.9,282.4 L861.9,281.4 L863.4,285.4 L865.0,287.4 L866.6,289.4 L868.0,288.4 L869.4,289.4 L871.0,287.4 L872.6,289.4 L874.0,290.0 L875.4,288.4 L877.0,280.4 L878.6,278.3 L880.0,280.4 L881.5,279.3 L883.1,281.4 L884.7,276.3 L886.1,275.9 L887.5,280.4 L888.1,298.5 L888.7,312.9 L889.5,300.5 L890.7,304.5 L892.1,308.5 L893.1,306.5 L894.7,307.5 L896.1,306.9 L897.1,310.1" fill="none" stroke="#323232" stroke-width="1.7" stroke-linejoin="round"/>

<line x1="77" x2="896" y1="370.0" y2="370.0" stroke="#f7145f" stroke-opacity="0.68" stroke-width="1.3" stroke-dasharray="2.7 2.55"/>
<line x1="716" x2="889" y1="151.0" y2="151.0" stroke="#4a86ff" stroke-width="1.3" stroke-dasharray="2 2"/>
<path d="M889,173 H811.7 V320.2 H694" fill="none" stroke="#f7145f" stroke-opacity="0.68" stroke-width="1.3" stroke-dasharray="2.7 2.55"/>
<path d="M875.9,151.5 V172.3 M870.4,167.2 L875.9,172.6 L881.5,167.2" fill="none" stroke="#1a1a1a" stroke-width="1.4"/>
<g font-weight="bold" text-anchor="middle">
<text x="756.5" y="133.6" font-size="12.7" fill="#1f62ff" textLength="38" lengthAdjust="spacingAndGlyphs">6-Nov</text>
<line x1="737.5" x2="775.3" y1="136.3" y2="136.3" stroke="#1f62ff" stroke-width="1"/>
<text x="756.2" y="148.6" font-size="12.5" fill="#1f62ff" textLength="79.3" lengthAdjust="spacingAndGlyphs">15.018M BTC</text>
<text x="860.7" y="192" font-size="12.7" fill="#111" textLength="65.8" lengthAdjust="spacingAndGlyphs">-254k BTC</text>
<text x="740.3" y="303.2" font-size="12.7" fill="#fb1260" textLength="91" lengthAdjust="spacingAndGlyphs">Current Supply</text>
<text x="740.3" y="318.0" font-size="12.6" fill="#fb1260" textLength="81" lengthAdjust="spacingAndGlyphs">14.764M BTC</text>
<text x="797.2" y="382.7" font-size="12.7" fill="#fb1260" textLength="163.5" lengthAdjust="spacingAndGlyphs">Old Supply 30-day Change</text>
<text x="797.4" y="397.2" font-size="12.6" fill="#fb1260" textLength="94.5" lengthAdjust="spacingAndGlyphs">-240k BTC/mth</text>
</g>


<line x1="75.4" x2="75.4" y1="106" y2="490.5" stroke="#333" stroke-width="1.6"/>
<line x1="902.0" x2="902.0" y1="106" y2="490.5" stroke="#fcefba" stroke-width="1.9"/>
<line x1="949.1" x2="949.1" y1="106" y2="490.5" stroke="#2ab878" stroke-width="1.9"/>
<line x1="79" x2="898" y1="491.0" y2="491.0" stroke="#e4e4e4" stroke-width="1.2"/>
<line x1="109.2" x2="109.2" y1="491" y2="497" stroke="#f0f0f0" stroke-width="1"/><text x="109.5" y="504.2" font-size="9.6" fill="#646464" text-anchor="middle" textLength="28.2" lengthAdjust="spacingAndGlyphs">Jan '20</text><line x1="177.1" x2="177.1" y1="491" y2="497" stroke="#f0f0f0" stroke-width="1"/><text x="177.4" y="504.2" font-size="9.6" fill="#646464" text-anchor="middle" textLength="27.9" lengthAdjust="spacingAndGlyphs">Apr '20</text><line x1="245.3" x2="245.3" y1="491" y2="497" stroke="#f0f0f0" stroke-width="1"/><text x="245.6" y="504.2" font-size="9.6" fill="#646464" text-anchor="middle" textLength="25.2" lengthAdjust="spacingAndGlyphs">Jul '20</text><line x1="314.0" x2="314.0" y1="491" y2="497" stroke="#f0f0f0" stroke-width="1"/><text x="314.3" y="504.2" font-size="9.6" fill="#646464" text-anchor="middle" textLength="27.9" lengthAdjust="spacingAndGlyphs">Oct '20</text><line x1="382.5" x2="382.5" y1="491" y2="497" stroke="#f0f0f0" stroke-width="1"/><text x="382.8" y="504.2" font-size="9.6" fill="#646464" text-anchor="middle" textLength="28.2" lengthAdjust="spacingAndGlyphs">Jan '21</text><line x1="449.9" x2="449.9" y1="491" y2="497" stroke="#f0f0f0" stroke-width="1"/><text x="450.2" y="504.2" font-size="9.6" fill="#646464" text-anchor="middle" textLength="27.9" lengthAdjust="spacingAndGlyphs">Apr '21</text><line x1="518.2" x2="518.2" y1="491" y2="497" stroke="#f0f0f0" stroke-width="1"/><text x="518.5" y="504.2" font-size="9.6" fill="#646464" text-anchor="middle" textLength="25.2" lengthAdjust="spacingAndGlyphs">Jul '21</text><line x1="586.5" x2="586.5" y1="491" y2="497" stroke="#f0f0f0" stroke-width="1"/><text x="586.8" y="504.2" font-size="9.6" fill="#646464" text-anchor="middle" textLength="27.9" lengthAdjust="spacingAndGlyphs">Oct '21</text><line x1="655.2" x2="655.2" y1="491" y2="497" stroke="#f0f0f0" stroke-width="1"/><text x="655.5" y="504.2" font-size="9.6" fill="#646464" text-anchor="middle" textLength="28.2" lengthAdjust="spacingAndGlyphs">Jan '22</text><line x1="722.6" x2="722.6" y1="491" y2="497" stroke="#f0f0f0" stroke-width="1"/><text x="722.9" y="504.2" font-size="9.6" fill="#646464" text-anchor="middle" textLength="27.9" lengthAdjust="spacingAndGlyphs">Apr '22</text><line x1="790.6" x2="790.6" y1="491" y2="497" stroke="#f0f0f0" stroke-width="1"/><text x="790.9" y="504.2" font-size="9.6" fill="#646464" text-anchor="middle" textLength="25.2" lengthAdjust="spacingAndGlyphs">Jul '22</text><line x1="859.3" x2="859.3" y1="491" y2="497" stroke="#f0f0f0" stroke-width="1"/><text x="859.6" y="504.2" font-size="9.6" fill="#646464" text-anchor="middle" textLength="27.9" lengthAdjust="spacingAndGlyphs">Oct '22</text><circle cx="895.8" cy="172.2" r="7" fill="#f8a3bd" fill-opacity="0.5" stroke="#f7145f" stroke-opacity="0.7" stroke-width="1.3" stroke-dasharray="2.6 2.1"/>
<circle cx="896.0" cy="370.1" r="7" fill="#f8a3bd" fill-opacity="0.5" stroke="#f7145f" stroke-opacity="0.7" stroke-width="1.3" stroke-dasharray="2.6 2.1"/>

<g font-size="8.3" fill="#7a7a7a"><text x="69.3" y="141.4" font-size="8.6" text-anchor="end">$60k</text><text x="69.3" y="282.3" font-size="8.6" text-anchor="end">$20k</text><text x="69.3" y="400.0" font-size="8.6" text-anchor="end">$8k</text><text x="69.3" y="489.0" font-size="8.6" text-anchor="end">$4k</text><text x="909.2" y="201.0">14.4M</text><text x="909.2" y="297.0">13.2M</text><text x="909.2" y="393.5">12M</text><text x="909.2" y="488.9">10.8M</text><text x="956" y="201.0">1.5M</text><text x="956" y="297.0">500K</text><text x="956" y="393.5">-500K</text><text x="956" y="488.9">-1.5M</text></g><circle cx="63.2" cy="90.7" r="3.3" fill="#333"/><text x="69.4" y="93.8" font-size="9" font-weight="bold" fill="#333" textLength="66.7" lengthAdjust="spacingAndGlyphs">BTC: Price [USD]</text><circle cx="63.2" cy="101.5" r="3.3" fill="#0fb36f"/><text x="69.4" y="104.6" font-size="9" font-weight="bold" fill="#333" textLength="149.4" lengthAdjust="spacingAndGlyphs">Old Supply Net Position Change (+ve)</text><circle cx="243.8" cy="90.7" r="3.3" fill="#fdeaa2"/><text x="250.0" y="93.8" font-size="9" font-weight="bold" fill="#d2d2d2" textLength="156.2" lengthAdjust="spacingAndGlyphs">BTC: Supply Last Active 6m-12m [BTC]</text><circle cx="243.8" cy="101.5" r="3.3" fill="#f55c5c"/><text x="250.0" y="104.6" font-size="9" font-weight="bold" fill="#333" textLength="147.5" lengthAdjust="spacingAndGlyphs">Old Supply Net Position Change (-ve)</text><circle cx="424.5" cy="90.7" r="3.3" fill="#cf9560"/><text x="430.8" y="93.8" font-size="9" font-weight="bold" fill="#d2d2d2" textLength="149.7" lengthAdjust="spacingAndGlyphs">BTC: Supply Last Active 1+ Years Ago</text><text x="431" y="104" font-size="8.3" font-weight="bold" fill="#555">-</text><circle cx="604.8" cy="90.7" r="3.3" fill="#ff9346"/><text x="611.0" y="93.8" font-size="9" font-weight="bold" fill="#d3d3d3" textLength="118.2" lengthAdjust="spacingAndGlyphs">BTC: Circulating Supply [BTC]</text><circle cx="785.3" cy="91.2" r="3.3" fill="#5a9bd0"/><text x="791.6" y="94.3" font-size="9" font-weight="bold" fill="#333" textLength="112.1" lengthAdjust="spacingAndGlyphs">Old Supply Last Active &gt; 6m</text><rect x="938.1" y="79.9" width="57" height="17.1" rx="3.5" fill="#f6f7f9"/><text x="943.8" y="91.4" font-size="9.3" fill="#505050" stroke="#505050" stroke-width="0.15" textLength="45.4" lengthAdjust="spacingAndGlyphs">Reset zoom</text>
<text x="22.6" y="563" font-size="11.6" fill="#808080" textLength="181.5" lengthAdjust="spacingAndGlyphs">© 2022 Glassnode. All Rights Reserved.</text>
<text x="917.6" y="563.8" font-size="17.6" fill="#111" stroke="#111" stroke-width="0.35" textLength="85" lengthAdjust="spacingAndGlyphs">glassnode</text>
</svg>
</body></html>
